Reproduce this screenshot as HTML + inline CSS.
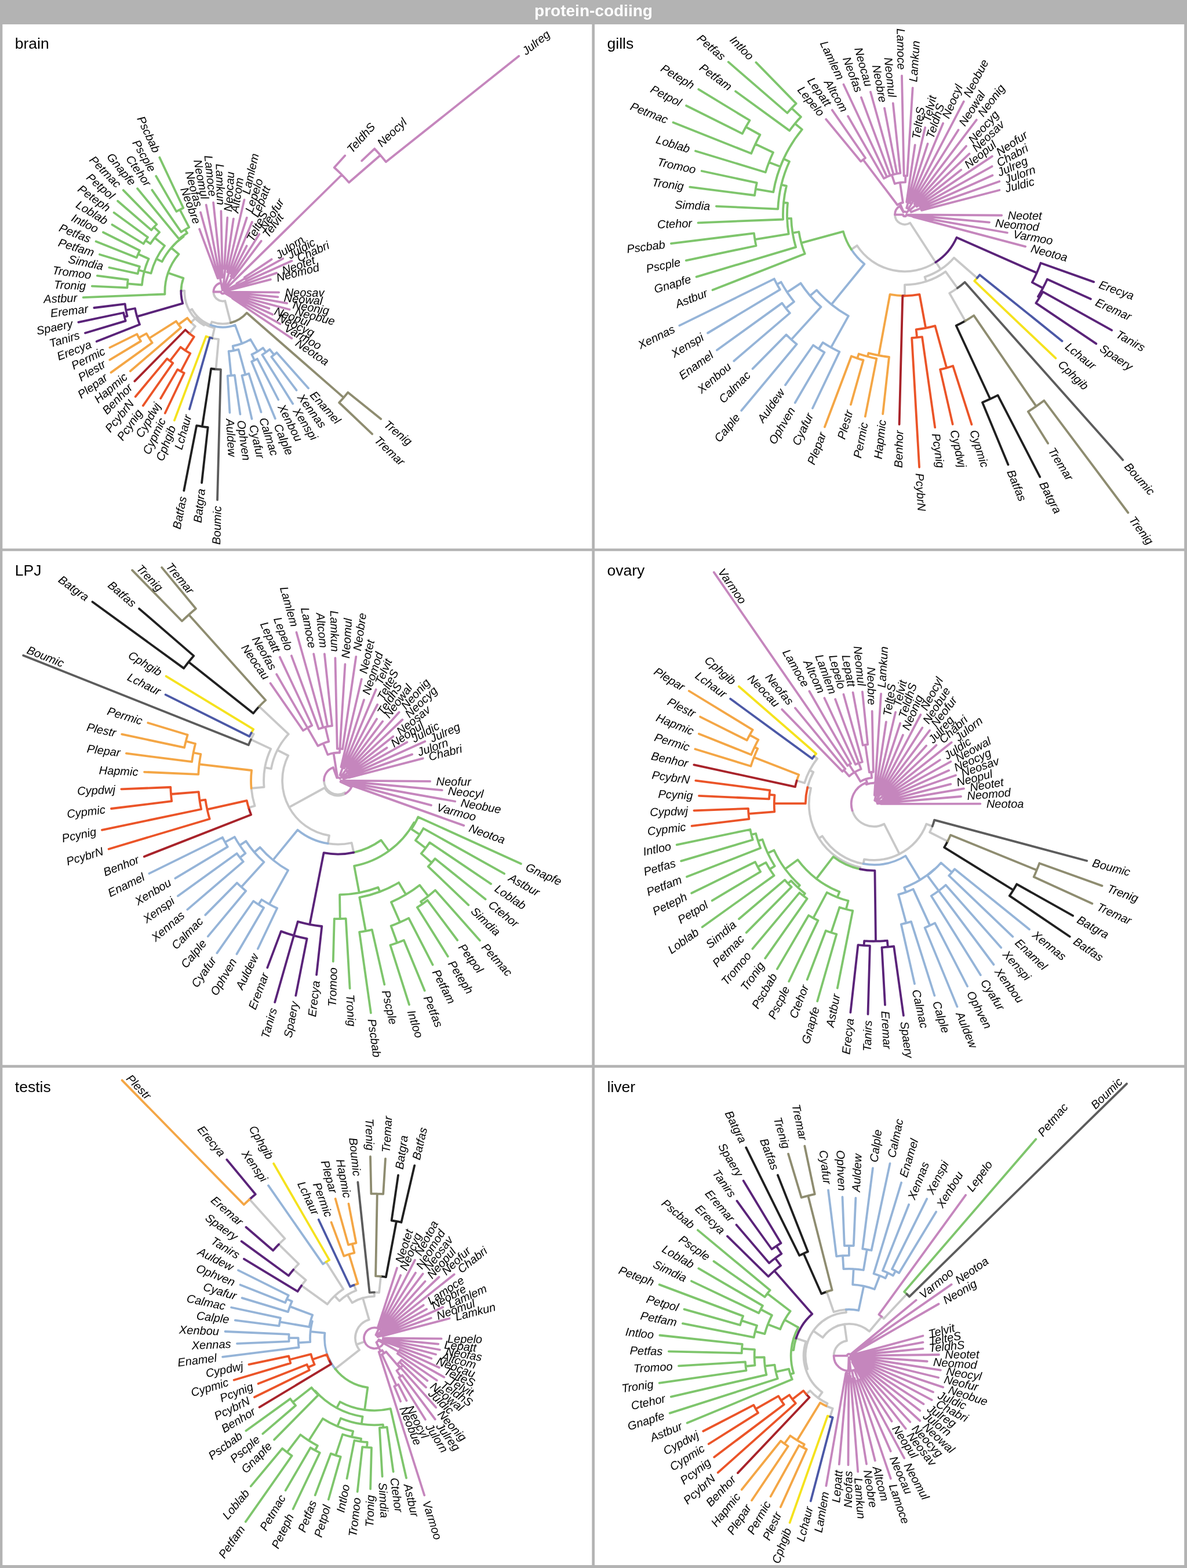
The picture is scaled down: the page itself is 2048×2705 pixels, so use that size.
<!DOCTYPE html>
<html><head><meta charset="utf-8"><style>
html,body{margin:0;padding:0;background:#b3b3b3;}
svg{display:block}
.ttl{font-family:"Liberation Sans",Arial,sans-serif;font-size:26.5px;fill:#000}
.lab text{font-family:"Liberation Sans",Arial,sans-serif;font-style:italic;font-size:20px;fill:#000;dominant-baseline:central}
.hdr{font-family:"Liberation Sans",Arial,sans-serif;font-weight:bold;font-size:28px;fill:#fff}
</style></head><body>
<svg width="2048" height="2705" viewBox="0 0 2048 2705" xmlns="http://www.w3.org/2000/svg">
<rect x="0" y="0" width="2048" height="2705" fill="#b3b3b3"/>
<text class="hdr" x="1024" y="27.8" text-anchor="middle">protein-codiing</text>
<rect x="4.3" y="42.0" width="1017.0" height="904.3" fill="#fff"/>
<text class="ttl" x="25.8" y="84.2">brain</text>
<g fill="none" stroke-width="3.8" stroke-linecap="round" stroke-linejoin="round"><path stroke="#C8C8C8" d="M326.9 536.0 A66.0 66.0 0 0 1 318.4 501.7 M318.4 501.7 L312.4 501.6 M329.6 556.2 A76.0 76.0 0 0 0 336.9 562.9 M336.9 562.9 L327.0 575.4 M352.9 559.2 A64.0 64.0 0 0 1 338.3 547.9 M338.3 547.9 L329.6 556.2 M366.1 583.5 A82.0 82.0 0 0 0 377.1 585.2 M377.1 585.2 L372.5 637.0 M352.9 559.2 A64.0 64.0 0 0 0 370.1 565.9 M370.1 565.9 L366.1 583.5 M326.9 536.0 A66.0 66.0 0 0 0 351.9 561.0 M351.9 561.0 L352.9 559.2 M363.4 560.8 A61.0 61.0 0 0 1 331.3 533.5 M331.3 533.5 L326.9 536.0 M398.0 556.8 A55.0 55.0 0 0 1 365.5 555.2 M365.5 555.2 L363.4 560.8 M368.4 503.5 A16.0 16.0 0 0 0 388.3 519.0 M388.3 519.0 L398.0 556.8"/><path stroke="#95B4D8" d="M398.8 647.8 A145.0 145.0 0 0 1 392.7 648.3 M392.7 648.3 L396.4 711.9 M398.8 647.8 A145.0 145.0 0 0 0 404.8 647.1 M404.8 647.1 L414.4 714.6 M403.1 604.8 A103.0 103.0 0 0 1 394.6 606.0 M394.6 606.0 L398.8 647.8 M423.4 646.3 A148.0 148.0 0 0 1 417.4 647.8 M417.4 647.8 L434.5 722.6 M423.4 646.3 A148.0 148.0 0 0 0 429.3 644.5 M429.3 644.5 L450.5 710.9 M403.1 604.8 A103.0 103.0 0 0 0 411.5 602.9 M411.5 602.9 L423.4 646.3 M417.4 592.6 A95.0 95.0 0 0 1 401.7 596.9 M401.7 596.9 L403.1 604.8 M439.0 621.5 A130.0 130.0 0 0 1 434.1 623.7 M434.1 623.7 L474.8 722.1 M439.0 621.5 A130.0 130.0 0 0 0 443.9 619.1 M443.9 619.1 L480.2 689.5 M444.3 606.3 A119.0 119.0 0 0 1 434.4 611.5 M434.4 611.5 L439.0 621.5 M459.0 607.5 A128.0 128.0 0 0 1 452.3 612.0 M452.3 612.0 L505.2 696.5 M472.9 612.0 A140.0 140.0 0 0 1 468.3 615.6 M468.3 615.6 L511.5 673.2 M472.9 612.0 A140.0 140.0 0 0 0 477.4 608.2 M477.4 608.2 L532.1 669.7 M459.0 607.5 A128.0 128.0 0 0 0 465.3 602.7 M465.3 602.7 L472.9 612.0 M444.3 606.3 A119.0 119.0 0 0 0 453.7 600.2 M453.7 600.2 L459.0 607.5 M417.4 592.6 A95.0 95.0 0 0 0 432.2 585.6 M432.2 585.6 L444.3 606.3 M363.4 560.8 A61.0 61.0 0 0 0 405.6 560.7 M405.6 560.7 L417.4 592.6"/><path stroke="#7EC56C" d="M310.3 361.7 A160.0 160.0 0 0 1 316.3 358.7 M316.3 358.7 L275.3 271.6 M310.3 361.7 A160.0 160.0 0 0 0 304.4 364.9 M304.4 364.9 L269.2 303.8 M319.3 396.0 A125.7 125.7 0 0 1 326.2 392.1 M326.2 392.1 L310.3 361.7 M319.3 396.0 A125.7 125.7 0 0 0 312.7 400.3 M312.7 400.3 L262.4 327.8 M315.8 406.9 A118.5 118.5 0 0 1 323.0 402.1 M323.0 402.1 L319.3 396.0 M315.8 406.9 A118.5 118.5 0 0 0 308.9 412.2 M308.9 412.2 L237.1 325.3 M295.5 427.5 A117.0 117.0 0 0 1 316.6 408.1 M316.6 408.1 L315.8 406.9 M265.6 391.8 A163.0 163.0 0 0 1 270.4 387.0 M270.4 387.0 L212.8 328.1 M265.6 391.8 A163.0 163.0 0 0 0 261.1 396.9 M261.1 396.9 L203.1 346.8 M266.9 410.2 A150.0 150.0 0 0 1 275.1 400.7 M275.1 400.7 L265.6 391.8 M251.2 414.8 A160.0 160.0 0 0 1 255.0 409.3 M255.0 409.3 L196.6 366.8 M251.2 414.8 A160.0 160.0 0 0 0 247.6 420.5 M247.6 420.5 L193.5 387.6 M266.9 410.2 A150.0 150.0 0 0 0 259.5 420.4 M259.5 420.4 L251.2 414.8 M269.8 446.5 A128.0 128.0 0 0 1 284.1 423.9 M284.1 423.9 L266.9 410.2 M238.3 438.2 A160.0 160.0 0 0 1 241.2 432.2 M241.2 432.2 L178.0 400.7 M238.3 438.2 A160.0 160.0 0 0 0 235.7 444.4 M235.7 444.4 L165.6 416.5 M248.8 468.5 A140.0 140.0 0 0 1 256.6 446.4 M256.6 446.4 L238.3 438.2 M239.2 466.0 A150.0 150.0 0 0 1 240.9 459.9 M240.9 459.9 L171.9 439.0 M239.2 466.0 A150.0 150.0 0 0 0 237.7 472.1 M237.7 472.1 L188.4 461.5 M248.8 468.5 L239.2 466.0 M220.0 489.4 A165.0 165.0 0 0 1 220.7 482.5 M220.7 482.5 L167.8 475.7 M220.0 489.4 A165.0 165.0 0 0 0 219.5 496.3 M219.5 496.3 L158.8 493.6 M248.8 468.5 A140.0 140.0 0 0 0 244.9 491.5 M244.9 491.5 L220.0 489.4 M269.8 446.5 A128.0 128.0 0 0 0 260.5 471.5 M260.5 471.5 L248.8 468.5 M295.5 427.5 A117.0 117.0 0 0 0 279.6 451.4 M279.6 451.4 L269.8 446.5 M289.9 470.7 A100.0 100.0 0 0 1 308.4 438.5 M308.4 438.5 L295.5 427.5 M289.9 470.7 A100.0 100.0 0 0 0 284.5 507.5 M284.5 507.5 L143.6 513.1 M312.4 501.6 A72.0 72.0 0 0 1 316.4 479.9 M316.4 479.9 L289.9 470.7"/><path stroke="#5A2379" d="M217.3 535.0 A170.0 170.0 0 0 1 215.7 524.4 M215.7 524.4 L162.4 531.0 M214.8 546.6 A175.0 175.0 0 0 1 213.1 539.5 M213.1 539.5 L135.4 555.8 M214.8 546.6 A175.0 175.0 0 0 0 216.7 553.6 M216.7 553.6 L147.0 574.5 M217.3 535.0 A170.0 170.0 0 0 0 219.6 545.4 M219.6 545.4 L214.8 546.6 M236.4 546.1 A154.0 154.0 0 0 1 233.0 532.0 M233.0 532.0 L217.3 535.0 M236.4 546.1 A154.0 154.0 0 0 0 241.0 559.8 M241.0 559.8 L166.7 589.0 M312.4 501.6 A72.0 72.0 0 0 0 315.2 523.4 M315.2 523.4 L236.4 546.1"/><path stroke="#F4A645" d="M239.5 582.6 A165.0 165.0 0 0 1 236.4 576.4 M236.4 576.4 L189.4 599.6 M239.5 582.6 A165.0 165.0 0 0 0 243.0 588.5 M243.0 588.5 L189.3 620.8 M257.5 583.5 A150.0 150.0 0 0 1 252.7 575.4 M252.7 575.4 L239.5 582.6 M257.5 583.5 A150.0 150.0 0 0 0 262.7 591.3 M262.7 591.3 L191.5 642.6 M307.9 559.9 A95.0 95.0 0 0 1 304.0 554.2 M304.0 554.2 L257.5 583.5 M307.9 559.9 A95.0 95.0 0 0 0 312.2 565.3 M312.2 565.3 L224.8 640.3 M329.6 556.2 A76.0 76.0 0 0 1 323.2 548.6 M323.2 548.6 L307.9 559.9"/><path stroke="#A8232A" d="M327.0 575.4 A92.0 92.0 0 0 1 319.8 569.0 M319.8 569.0 L232.3 657.6"/><path stroke="#EB5428" d="M293.2 622.6 A150.0 150.0 0 0 1 288.3 618.7 M288.3 618.7 L233.7 684.2 M293.2 622.6 A150.0 150.0 0 0 0 298.3 626.4 M298.3 626.4 L246.8 699.8 M319.7 604.6 A120.0 120.0 0 0 1 311.5 598.8 M311.5 598.8 L293.2 622.6 M312.0 640.6 A155.0 155.0 0 0 1 306.3 637.4 M306.3 637.4 L277.2 687.3 M312.0 640.6 A155.0 155.0 0 0 0 317.8 643.5 M317.8 643.5 L284.8 712.7 M319.7 604.6 A120.0 120.0 0 0 0 328.3 609.6 M328.3 609.6 L312.0 640.6 M327.0 575.4 A92.0 92.0 0 0 0 334.8 581.0 M334.8 581.0 L319.7 604.6"/><path stroke="#F5E21D" d="M366.1 583.5 A82.0 82.0 0 0 1 355.5 580.3 M355.5 580.3 L300.9 725.1"/><path stroke="#4B58A6" d="M366.1 583.5 A82.0 82.0 0 0 1 362.0 582.4 M362.0 582.4 L326.9 705.8"/><path stroke="#202020" d="M348.9 735.8 A235.0 235.0 0 0 1 339.2 734.2 M339.2 734.2 L317.3 846.4 M348.9 735.8 A235.0 235.0 0 0 0 358.7 737.1 M358.7 737.1 L348.1 832.8 M372.5 637.0 A134.0 134.0 0 0 1 364.2 636.0 M364.2 636.0 L348.9 735.8"/><path stroke="#5C5C5C" d="M372.5 637.0 A134.0 134.0 0 0 0 380.9 637.5 M380.9 637.5 L375.0 862.4"/><path stroke="#8E8C70" d="M592.9 685.9 A277.0 277.0 0 0 1 585.1 694.5 M585.1 694.5 L642.1 748.7 M592.9 685.9 A277.0 277.0 0 0 0 600.3 677.0 M600.3 677.0 L657.2 722.8 M398.0 556.8 A55.0 55.0 0 0 0 425.8 539.7 M425.8 539.7 L592.9 685.9"/><path stroke="#C586BD" d="M395.9 500.0 A12.0 12.0 0 0 1 396.0 500.5 M396.0 500.5 L466.9 482.1 M395.9 500.0 A12.0 12.0 0 0 0 395.7 499.5 M395.7 499.5 L477.2 470.9 M383.9 500.6 A3.0 3.0 0 0 1 387.2 502.6 M387.2 502.6 L395.9 500.0 M409.2 490.5 A28.0 28.0 0 0 1 409.9 492.1 M409.9 492.1 L503.5 450.1 M422.8 480.1 A45.0 45.0 0 0 1 423.8 481.7 M423.8 481.7 L488.2 446.1 M422.8 480.1 A45.0 45.0 0 0 0 421.8 478.5 M421.8 478.5 L468.6 447.3 M409.2 490.5 A28.0 28.0 0 0 0 408.3 489.0 M408.3 489.0 L422.8 480.1 M383.9 500.6 A3.0 3.0 0 0 1 387.0 502.1 M387.0 502.1 L409.2 490.5 M656.3 267.7 A359.9 359.9 0 0 1 665.9 279.3 M665.9 279.3 L895.2 96.8 M656.3 267.7 A359.9 359.9 0 0 0 646.2 256.6 M646.2 256.6 L624.2 277.4 M589.8 301.5 A288.1 288.1 0 0 1 602.1 314.8 M602.1 314.8 L656.3 267.7 M589.8 301.5 A288.1 288.1 0 0 0 576.7 289.0 M576.7 289.0 L595.2 268.5 M383.9 500.6 A3.0 3.0 0 0 1 386.5 501.4 M386.5 501.4 L589.8 301.5 M400.4 478.2 A30.0 30.0 0 0 1 402.5 479.6 M402.5 479.6 L450.7 415.8 M400.4 478.2 L447.3 404.1 M400.4 478.2 A30.0 30.0 0 0 0 398.2 476.9 M398.2 476.9 L425.6 424.3 M383.9 500.6 A3.0 3.0 0 0 1 386.0 501.0 M386.0 501.0 L400.4 478.2 M395.2 470.2 A35.0 35.0 0 0 1 397.9 471.2 M397.9 471.2 L434.9 382.9 M395.2 470.2 L425.8 375.6 M395.2 470.2 A35.0 35.0 0 0 0 392.3 469.4 M392.3 469.4 L421.5 344.6 M383.9 500.6 A3.0 3.0 0 0 1 385.3 500.7 M385.3 500.7 L395.2 470.2 M388.5 463.7 A40.0 40.0 0 0 1 390.2 463.9 M390.2 463.9 L402.9 377.3 M388.5 463.7 A40.0 40.0 0 0 0 386.9 463.6 M386.9 463.6 L392.3 375.5 M383.9 500.6 A3.0 3.0 0 0 1 384.7 500.5 M384.7 500.5 L388.5 463.7 M379.7 479.0 A25.0 25.0 0 0 1 383.8 478.5 M383.8 478.5 L381.4 364.2 M379.7 479.0 A25.0 25.0 0 0 1 381.8 478.7 M381.8 478.7 L368.1 349.4 M379.7 479.0 L355.7 353.5 M379.7 479.0 A25.0 25.0 0 0 0 377.6 479.4 M377.6 479.4 L346.1 366.4 M379.7 479.0 A25.0 25.0 0 0 0 375.7 480.1 M375.7 480.1 L344.1 395.2 M383.9 500.6 A3.0 3.0 0 0 0 383.8 500.6 M383.8 500.6 L379.7 479.0 M368.4 503.5 A16.0 16.0 0 0 1 381.6 487.8 M381.6 487.8 L383.9 500.6 M401.4 514.0 A20.0 20.0 0 0 1 401.0 514.7 M401.0 514.7 L503.4 583.8 M401.4 514.0 A20.0 20.0 0 0 0 401.8 513.3 M401.8 513.3 L483.5 558.9 M381.4 503.5 A3.0 3.0 0 0 0 386.9 505.1 M386.9 505.1 L401.4 514.0 M398.3 509.1 A15.0 15.0 0 0 1 398.0 509.7 M398.0 509.7 L470.3 542.5 M398.3 509.1 A15.0 15.0 0 0 0 398.5 508.6 M398.5 508.6 L464.4 532.1 M381.4 503.5 A3.0 3.0 0 0 0 387.2 504.6 M387.2 504.6 L398.3 509.1 M402.0 507.4 A18.0 18.0 0 0 1 401.8 508.1 M401.8 508.1 L499.6 534.0 M402.0 507.4 A18.0 18.0 0 0 0 402.1 506.7 M402.1 506.7 L495.2 523.1 M381.4 503.5 A3.0 3.0 0 0 0 387.3 504.2 M387.3 504.2 L402.0 507.4 M394.4 504.0 A10.0 10.0 0 0 1 394.3 504.4 M394.3 504.4 L479.5 512.3 M394.4 504.0 A10.0 10.0 0 0 0 394.4 503.6 M394.4 503.6 L481.2 504.3 M381.4 503.5 A3.0 3.0 0 0 0 387.4 503.7 M387.4 503.7 L394.4 504.0 M368.4 503.5 L381.4 503.5"/></g><g class="lab"><text x="477.1" y="479.4" text-anchor="start" transform="rotate(-14.57 477.1 479.4)">Neomod</text><text x="487.1" y="467.4" text-anchor="start" transform="rotate(-19.36 487.1 467.4)">Neotet</text><text x="513.1" y="445.8" text-anchor="start" transform="rotate(-24.16 513.1 445.8)">Chabri</text><text x="497.4" y="441.0" text-anchor="start" transform="rotate(-28.95 497.4 441.0)">Juldic</text><text x="477.4" y="441.4" text-anchor="start" transform="rotate(-33.74 477.4 441.4)">Julorn</text><text x="903.4" y="90.2" text-anchor="start" transform="rotate(-38.53 903.4 90.2)">Julreg</text><text x="653.9" y="249.4" text-anchor="start" transform="rotate(-43.32 653.9 249.4)">Neocyl</text><text x="602.2" y="260.7" text-anchor="start" transform="rotate(-48.11 602.2 260.7)">TeldhS</text><text x="457.1" y="407.4" text-anchor="start" transform="rotate(-52.90 457.1 407.4)">Telvit</text><text x="452.9" y="395.2" text-anchor="start" transform="rotate(-57.69 452.9 395.2)">Neofur</text><text x="430.5" y="415.0" text-anchor="start" transform="rotate(-62.49 430.5 415.0)">TelteS</text><text x="438.9" y="373.3" text-anchor="start" transform="rotate(-67.28 438.9 373.3)">Lepatt</text><text x="429.0" y="365.6" text-anchor="start" transform="rotate(-72.07 429.0 365.6)">Lepelo</text><text x="423.9" y="334.3" text-anchor="start" transform="rotate(-76.86 423.9 334.3)">Lamlem</text><text x="404.4" y="366.9" text-anchor="start" transform="rotate(-81.65 404.4 366.9)">Altcom</text><text x="393.0" y="365.0" text-anchor="start" transform="rotate(-86.44 393.0 365.0)">Neocau</text><text x="381.1" y="353.7" text-anchor="end" transform="rotate(88.77 381.1 353.7)">Lamkun</text><text x="367.0" y="338.9" text-anchor="end" transform="rotate(83.98 367.0 338.9)">Lamoce</text><text x="353.7" y="343.2" text-anchor="end" transform="rotate(79.18 353.7 343.2)">Neomul</text><text x="343.2" y="356.3" text-anchor="end" transform="rotate(74.39 343.2 356.3)">Neofas</text><text x="340.4" y="385.4" text-anchor="end" transform="rotate(69.60 340.4 385.4)">Neobre</text><text x="270.8" y="262.0" text-anchor="end" transform="rotate(64.81 270.8 262.0)">Pscbab</text><text x="263.9" y="294.7" text-anchor="end" transform="rotate(60.02 263.9 294.7)">Pscple</text><text x="256.4" y="319.2" text-anchor="end" transform="rotate(55.23 256.4 319.2)">Ctehor</text><text x="230.4" y="317.2" text-anchor="end" transform="rotate(50.44 230.4 317.2)">Gnapfe</text><text x="205.5" y="320.6" text-anchor="end" transform="rotate(45.64 205.5 320.6)">Petmac</text><text x="195.2" y="339.9" text-anchor="end" transform="rotate(40.85 195.2 339.9)">Petpol</text><text x="188.1" y="360.6" text-anchor="end" transform="rotate(36.06 188.1 360.6)">Peteph</text><text x="184.5" y="382.2" text-anchor="end" transform="rotate(31.27 184.5 382.2)">Loblab</text><text x="168.6" y="396.0" text-anchor="end" transform="rotate(26.48 168.6 396.0)">Intloo</text><text x="155.9" y="412.7" text-anchor="end" transform="rotate(21.69 155.9 412.7)">Petfas</text><text x="161.9" y="435.9" text-anchor="end" transform="rotate(16.90 161.9 435.9)">Petfam</text><text x="178.1" y="459.3" text-anchor="end" transform="rotate(12.11 178.1 459.3)">Simdia</text><text x="157.4" y="474.4" text-anchor="end" transform="rotate(7.31 157.4 474.4)">Tromoo</text><text x="148.3" y="493.1" text-anchor="end" transform="rotate(2.52 148.3 493.1)">Tronig</text><text x="133.1" y="513.5" text-anchor="end" transform="rotate(-2.27 133.1 513.5)">Astbur</text><text x="151.9" y="532.3" text-anchor="end" transform="rotate(-7.06 151.9 532.3)">Eremar</text><text x="125.1" y="557.9" text-anchor="end" transform="rotate(-11.85 125.1 557.9)">Spaery</text><text x="136.9" y="577.5" text-anchor="end" transform="rotate(-16.64 136.9 577.5)">Tanirs</text><text x="156.9" y="592.8" text-anchor="end" transform="rotate(-21.43 156.9 592.8)">Erecya</text><text x="180.0" y="604.2" text-anchor="end" transform="rotate(-26.22 180.0 604.2)">Permic</text><text x="180.3" y="626.2" text-anchor="end" transform="rotate(-31.02 180.3 626.2)">Plestr</text><text x="183.0" y="648.8" text-anchor="end" transform="rotate(-35.81 183.0 648.8)">Plepar</text><text x="216.8" y="647.1" text-anchor="end" transform="rotate(-40.60 216.8 647.1)">Hapmic</text><text x="225.0" y="665.1" text-anchor="end" transform="rotate(-45.39 225.0 665.1)">Benhor</text><text x="227.0" y="692.3" text-anchor="end" transform="rotate(-50.18 227.0 692.3)">PcybrN</text><text x="240.8" y="708.4" text-anchor="end" transform="rotate(-54.97 240.8 708.4)">Pcynig</text><text x="271.9" y="696.4" text-anchor="end" transform="rotate(-59.76 271.9 696.4)">Cypdwj</text><text x="280.3" y="722.2" text-anchor="end" transform="rotate(-64.55 280.3 722.2)">Cypmic</text><text x="297.2" y="734.9" text-anchor="end" transform="rotate(-69.35 297.2 734.9)">Cphgib</text><text x="324.0" y="715.9" text-anchor="end" transform="rotate(-74.14 324.0 715.9)">Lchaur</text><text x="315.3" y="856.7" text-anchor="end" transform="rotate(-78.93 315.3 856.7)">Batfas</text><text x="347.0" y="843.2" text-anchor="end" transform="rotate(-83.72 347.0 843.2)">Batgra</text><text x="374.8" y="872.9" text-anchor="end" transform="rotate(-88.51 374.8 872.9)">Boumic</text><text x="397.0" y="722.4" text-anchor="start" transform="rotate(-273.30 397.0 722.4)">Auldew</text><text x="415.9" y="725.0" text-anchor="start" transform="rotate(-278.09 415.9 725.0)">Ophven</text><text x="436.8" y="732.9" text-anchor="start" transform="rotate(-282.88 436.8 732.9)">Cyafur</text><text x="453.7" y="720.9" text-anchor="start" transform="rotate(-287.68 453.7 720.9)">Calmac</text><text x="478.8" y="731.8" text-anchor="start" transform="rotate(-292.47 478.8 731.8)">Calple</text><text x="485.0" y="698.8" text-anchor="start" transform="rotate(-297.26 485.0 698.8)">Xenbou</text><text x="510.8" y="705.4" text-anchor="start" transform="rotate(-302.05 510.8 705.4)">Xenspi</text><text x="517.8" y="681.6" text-anchor="start" transform="rotate(-306.84 517.8 681.6)">Xennas</text><text x="539.1" y="677.6" text-anchor="start" transform="rotate(-311.63 539.1 677.6)">Enamel</text><text x="649.7" y="756.0" text-anchor="start" transform="rotate(-316.42 649.7 756.0)">Tremar</text><text x="665.4" y="729.4" text-anchor="start" transform="rotate(-321.22 665.4 729.4)">Trenig</text><text x="512.1" y="589.6" text-anchor="start" transform="rotate(-326.01 512.1 589.6)">Neotoa</text><text x="492.7" y="564.1" text-anchor="start" transform="rotate(-330.80 492.7 564.1)">Varmoo</text><text x="479.8" y="546.9" text-anchor="start" transform="rotate(-335.59 479.8 546.9)">Neocyg</text><text x="474.3" y="535.6" text-anchor="start" transform="rotate(-340.38 474.3 535.6)">Neopul</text><text x="509.8" y="536.7" text-anchor="start" transform="rotate(-345.17 509.8 536.7)">Neobue</text><text x="505.5" y="525.0" text-anchor="start" transform="rotate(-349.96 505.5 525.0)">Neonig</text><text x="490.0" y="513.2" text-anchor="start" transform="rotate(-354.75 490.0 513.2)">Neowal</text><text x="491.7" y="504.4" text-anchor="start" transform="rotate(-359.55 491.7 504.4)">Neosav</text></g>
<rect x="1026.0" y="42.0" width="1017.2" height="904.3" fill="#fff"/>
<text class="ttl" x="1047.5" y="84.2">gills</text>
<g fill="none" stroke-width="3.8" stroke-linecap="round" stroke-linejoin="round"><path stroke="#C8C8C8" d="M1614.3 452.5 A98.0 98.0 0 0 1 1478.8 423.7 M1478.8 423.7 L1468.8 430.3 M1598.0 485.5 A121.0 121.0 0 0 1 1561.0 491.3 M1561.0 491.3 L1561.0 510.3 M1651.9 497.0 A156.0 156.0 0 0 1 1638.2 505.8 M1638.2 505.8 L1665.4 553.6 M1598.0 485.5 A121.0 121.0 0 0 0 1631.5 468.6 M1631.5 468.6 L1651.9 497.0 M1623.1 464.7 A113.0 113.0 0 0 1 1595.6 477.8 M1595.6 477.8 L1598.0 485.5 M1623.1 464.7 A113.0 113.0 0 0 0 1646.0 444.7 M1646.0 444.7 L1685.9 479.5 M1614.3 452.5 A98.0 98.0 0 0 0 1614.8 452.2 M1614.8 452.2 L1623.1 464.7 M1544.0 370.3 A17.0 17.0 0 0 0 1570.2 384.5 M1570.2 384.5 L1614.3 452.5"/><path stroke="#95B4D8" d="M1340.6 490.5 A251.0 251.0 0 0 1 1335.8 481.1 M1335.8 481.1 L1172.3 561.6 M1340.6 490.5 A251.0 251.0 0 0 0 1345.8 499.6 M1345.8 499.6 L1221.1 574.5 M1358.1 504.1 A243.0 243.0 0 0 1 1347.6 486.6 M1347.6 486.6 L1340.6 490.5 M1355.8 531.7 A261.0 261.0 0 0 1 1349.3 522.9 M1349.3 522.9 L1236.9 604.0 M1355.8 531.7 A261.0 261.0 0 0 0 1362.8 540.1 M1362.8 540.1 L1266.3 622.7 M1358.1 504.1 A243.0 243.0 0 0 0 1370.0 520.5 M1370.0 520.5 L1355.8 531.7 M1397.7 510.2 A215.0 215.0 0 0 1 1381.5 488.6 M1381.5 488.6 L1358.1 504.1 M1365.4 585.8 A291.0 291.0 0 0 1 1356.6 577.4 M1356.6 577.4 L1298.6 636.2 M1365.4 585.8 A291.0 291.0 0 0 0 1374.6 593.8 M1374.6 593.8 L1279.2 708.2 M1397.7 510.2 A215.0 215.0 0 0 0 1416.5 529.5 M1416.5 529.5 L1365.4 585.8 M1434.5 525.2 A200.0 200.0 0 0 1 1409.1 500.4 M1409.1 500.4 L1397.7 510.2 M1412.6 601.9 A275.0 275.0 0 0 1 1403.1 595.5 M1403.1 595.5 L1355.0 664.1 M1412.6 601.9 A275.0 275.0 0 0 0 1422.5 607.9 M1422.5 607.9 L1371.8 694.8 M1433.8 599.3 A262.0 262.0 0 0 1 1419.7 590.9 M1419.7 590.9 L1412.6 601.9 M1433.8 599.3 A262.0 262.0 0 0 0 1448.4 606.9 M1448.4 606.9 L1402.0 704.3 M1434.5 525.2 A200.0 200.0 0 0 0 1463.9 545.1 M1463.9 545.1 L1433.8 599.3 M1468.8 430.3 A110.0 110.0 0 0 0 1491.4 455.5 M1491.4 455.5 L1434.5 525.2"/><path stroke="#7EC56C" d="M1365.8 186.6 A268.0 268.0 0 0 1 1373.7 178.6 M1373.7 178.6 L1304.4 107.7 M1365.8 186.6 A268.0 268.0 0 0 0 1358.3 194.9 M1358.3 194.9 L1256.7 106.9 M1371.6 213.2 A246.0 246.0 0 0 1 1381.9 201.6 M1381.9 201.6 L1365.8 186.6 M1371.6 213.2 A246.0 246.0 0 0 0 1362.2 225.4 M1362.2 225.4 L1269.0 157.5 M1352.0 274.1 A230.0 230.0 0 0 1 1383.9 223.4 M1383.9 223.4 L1371.6 213.2 M1286.9 219.0 A313.0 313.0 0 0 1 1293.5 207.7 M1293.5 207.7 L1205.3 154.1 M1286.9 219.0 A313.0 313.0 0 0 0 1280.8 230.6 M1280.8 230.6 L1184.0 182.3 M1303.3 248.5 A285.0 285.0 0 0 1 1311.4 232.5 M1311.4 232.5 L1286.9 219.0 M1303.3 248.5 A285.0 285.0 0 0 0 1296.2 264.8 M1296.2 264.8 L1161.5 211.2 M1326.8 279.9 A251.0 251.0 0 0 1 1334.0 263.0 M1334.0 263.0 L1303.3 248.5 M1326.8 279.9 A251.0 251.0 0 0 0 1320.8 297.2 M1320.8 297.2 L1200.0 260.5 M1352.0 274.1 A230.0 230.0 0 0 0 1346.4 287.4 M1346.4 287.4 L1326.8 279.9 M1303.7 326.2 A261.0 261.0 0 0 1 1305.8 315.4 M1305.8 315.4 L1210.7 295.0 M1303.7 326.2 A261.0 261.0 0 0 0 1302.1 337.0 M1302.1 337.0 L1190.2 322.6 M1352.0 274.1 A230.0 230.0 0 0 0 1334.3 331.4 M1334.3 331.4 L1303.7 326.2 M1348.1 318.7 A219.0 219.0 0 0 1 1362.0 278.7 M1362.0 278.7 L1352.0 274.1 M1348.1 318.7 A219.0 219.0 0 0 0 1342.2 360.6 M1342.2 360.6 L1235.8 355.8 M1352.0 349.5 A210.0 210.0 0 0 1 1356.9 320.8 M1356.9 320.8 L1348.1 318.7 M1352.0 349.5 A210.0 210.0 0 0 0 1351.1 378.5 M1351.1 378.5 L1204.5 384.3 M1358.1 376.9 A203.0 203.0 0 0 1 1359.0 350.2 M1359.0 350.2 L1352.0 349.5 M1302.5 413.2 A262.0 262.0 0 0 1 1300.9 402.4 M1300.9 402.4 L1157.9 420.1 M1302.5 413.2 A262.0 262.0 0 0 0 1304.5 424.0 M1304.5 424.0 L1183.8 449.3 M1358.1 376.9 A203.0 203.0 0 0 0 1360.7 403.6 M1360.7 403.6 L1302.5 413.2 M1367.5 401.8 A196.0 196.0 0 0 1 1365.1 376.7 M1365.1 376.7 L1358.1 376.9 M1367.5 401.8 A196.0 196.0 0 0 0 1373.1 426.4 M1373.1 426.4 L1201.6 477.6 M1382.5 419.2 A185.0 185.0 0 0 1 1378.4 400.0 M1378.4 400.0 L1367.5 401.8 M1382.5 419.2 A185.0 185.0 0 0 0 1388.7 437.8 M1388.7 437.8 L1229.5 500.3 M1468.8 430.3 A110.0 110.0 0 0 1 1454.9 399.4 M1454.9 399.4 L1382.5 419.2"/><path stroke="#5A2379" d="M1793.5 513.2 A273.0 273.0 0 0 1 1787.4 522.8 M1787.4 522.8 L1891.3 592.9 M1793.5 513.2 A273.0 273.0 0 0 0 1799.3 503.4 M1799.3 503.4 L1918.1 569.7 M1799.4 497.0 A270.0 270.0 0 0 1 1791.0 511.7 M1791.0 511.7 L1793.5 513.2 M1799.4 497.0 A270.0 270.0 0 0 0 1806.9 481.8 M1806.9 481.8 L1881.9 515.8 M1788.8 470.7 A249.0 249.0 0 0 1 1780.8 487.1 M1780.8 487.1 L1799.4 497.0 M1788.8 470.7 A249.0 249.0 0 0 0 1795.5 453.8 M1795.5 453.8 L1887.2 486.4 M1614.3 452.5 A98.0 98.0 0 0 0 1650.6 409.8 M1650.6 409.8 L1788.8 470.7"/><path stroke="#F4A645" d="M1479.2 618.1 A261.0 261.0 0 0 1 1468.9 614.5 M1468.9 614.5 L1422.9 736.5 M1479.2 618.1 A261.0 261.0 0 0 0 1489.6 621.3 M1489.6 621.3 L1467.9 697.9 M1496.9 615.0 A253.0 253.0 0 0 1 1481.7 610.5 M1481.7 610.5 L1479.2 618.1 M1496.9 615.0 A253.0 253.0 0 0 0 1512.4 618.6 M1512.4 618.6 L1492.8 718.5 M1516.1 613.2 A247.0 247.0 0 0 1 1498.4 609.2 M1498.4 609.2 L1496.9 615.0 M1516.1 613.2 A247.0 247.0 0 0 0 1534.0 615.8 M1534.0 615.8 L1523.2 714.0 M1561.0 510.3 A140.0 140.0 0 0 1 1535.5 507.9 M1535.5 507.9 L1516.1 613.2"/><path stroke="#A8232A" d="M1561.0 510.3 A140.0 140.0 0 0 1 1557.3 510.2 M1557.3 510.2 L1551.6 732.0"/><path stroke="#EB5428" d="M1582.1 582.2 A213.0 213.0 0 0 1 1573.2 582.9 M1573.2 582.9 L1586.1 806.0 M1582.1 582.2 A213.0 213.0 0 0 0 1591.0 581.2 M1591.0 581.2 L1613.2 737.3 M1597.2 565.9 A199.0 199.0 0 0 1 1580.7 568.3 M1580.7 568.3 L1582.1 582.2 M1633.2 634.6 A274.0 274.0 0 0 1 1622.1 637.4 M1622.1 637.4 L1643.7 731.8 M1633.2 634.6 A274.0 274.0 0 0 0 1644.2 631.3 M1644.2 631.3 L1676.4 732.2 M1597.2 565.9 A199.0 199.0 0 0 0 1613.4 562.2 M1613.4 562.2 L1633.2 634.6 M1561.0 510.3 A140.0 140.0 0 0 0 1586.5 507.9 M1586.5 507.9 L1597.2 565.9"/><path stroke="#F5E21D" d="M1685.9 479.5 A166.0 166.0 0 0 1 1681.2 484.7 M1681.2 484.7 L1821.4 617.9"/><path stroke="#4B58A6" d="M1685.9 479.5 A166.0 166.0 0 0 0 1690.4 474.2 M1690.4 474.2 L1832.6 588.4"/><path stroke="#202020" d="M1708.4 688.3 A350.6 350.6 0 0 1 1695.0 694.2 M1695.0 694.2 L1739.4 801.6 M1708.4 688.3 A350.6 350.6 0 0 0 1721.6 681.9 M1721.6 681.9 L1794.2 822.7 M1665.4 553.6 A211.0 211.0 0 0 1 1649.7 561.7 M1649.7 561.7 L1708.4 688.3"/><path stroke="#5C5C5C" d="M1651.9 497.0 A156.0 156.0 0 0 0 1664.6 486.8 M1664.6 486.8 L1937.3 793.4"/><path stroke="#8E8C70" d="M1787.8 700.9 A400.9 400.9 0 0 1 1773.8 710.1 M1773.8 710.1 L1808.1 764.8 M1787.8 700.9 A400.9 400.9 0 0 0 1801.4 691.1 M1801.4 691.1 L1946.4 884.5 M1665.4 553.6 A211.0 211.0 0 0 0 1680.3 544.3 M1680.3 544.3 L1787.8 700.9"/><path stroke="#C586BD" d="M1588.8 359.2 A30.0 30.0 0 0 1 1590.0 362.8 M1590.0 362.8 L1724.4 328.0 M1588.8 359.2 A30.0 30.0 0 0 1 1589.3 360.4 M1589.3 360.4 L1724.3 313.0 M1588.8 359.2 A30.0 30.0 0 0 0 1588.3 358.0 M1588.3 358.0 L1712.4 302.5 M1588.8 359.2 A30.0 30.0 0 0 0 1587.2 355.8 M1587.2 355.8 L1711.6 287.1 M1569.0 361.4 A12.0 12.0 0 0 1 1572.1 365.8 M1572.1 365.8 L1588.8 359.2 M1579.9 353.9 A25.0 25.0 0 0 1 1581.8 356.4 M1581.8 356.4 L1711.9 269.7 M1579.9 353.9 A25.0 25.0 0 0 1 1580.5 354.7 M1580.5 354.7 L1658.3 292.9 M1579.9 353.9 A25.0 25.0 0 0 0 1579.2 353.1 M1579.2 353.1 L1672.6 265.2 M1579.9 353.9 A25.0 25.0 0 0 0 1577.7 351.7 M1577.7 351.7 L1667.1 252.1 M1569.0 361.4 A12.0 12.0 0 0 1 1570.0 362.4 M1570.0 362.4 L1579.9 353.9 M1575.9 346.6 A28.0 28.0 0 0 1 1577.9 348.0 M1577.9 348.0 L1684.8 206.8 M1575.9 346.6 L1653.5 224.2 M1575.9 346.6 A28.0 28.0 0 0 0 1573.9 345.5 M1573.9 345.5 L1662.8 175.2 M1569.0 361.4 A12.0 12.0 0 0 0 1567.4 360.1 M1567.4 360.1 L1575.9 346.6 M1566.9 349.1 A22.0 22.0 0 0 1 1569.5 350.0 M1569.5 350.0 L1627.1 212.8 M1566.9 349.1 A22.0 22.0 0 0 1 1567.7 349.4 M1567.7 349.4 L1600.6 248.0 M1566.9 349.1 A22.0 22.0 0 0 0 1566.0 348.9 M1566.0 348.9 L1596.2 220.0 M1566.9 349.1 A22.0 22.0 0 0 0 1564.2 348.5 M1564.2 348.5 L1578.7 250.2 M1569.0 361.4 A12.0 12.0 0 0 0 1564.2 358.7 M1564.2 358.7 L1566.9 349.1 M1558.5 365.9 A5.0 5.0 0 0 1 1564.3 366.6 M1564.3 366.6 L1569.0 361.4 M1562.4 303.3 A67.0 67.0 0 0 1 1565.2 303.4 M1565.2 303.4 L1574.7 151.7 M1562.4 303.3 A67.0 67.0 0 0 0 1559.6 303.3 M1559.6 303.3 L1556.0 130.7 M1552.8 314.9 A56.0 56.0 0 0 1 1562.1 314.3 M1562.1 314.3 L1562.4 303.3 M1538.7 301.8 A72.0 72.0 0 0 1 1553.4 298.7 M1553.4 298.7 L1540.8 178.1 M1538.7 301.8 A72.0 72.0 0 0 1 1547.5 299.5 M1547.5 299.5 L1526.0 186.6 M1538.7 301.8 A72.0 72.0 0 0 1 1541.6 300.9 M1541.6 300.9 L1502.0 158.7 M1538.7 301.8 A72.0 72.0 0 0 0 1535.9 302.8 M1535.9 302.8 L1485.9 168.1 M1538.7 301.8 A72.0 72.0 0 0 0 1530.3 305.1 M1530.3 305.1 L1455.5 145.8 M1538.7 301.8 A72.0 72.0 0 0 0 1525.0 307.9 M1525.0 307.9 L1463.1 200.5 M1552.8 314.9 A56.0 56.0 0 0 0 1543.7 317.0 M1543.7 317.0 L1538.7 301.8 M1552.8 350.9 A21.0 21.0 0 0 1 1557.9 349.5 M1557.9 349.5 L1552.8 314.9 M1489.1 275.4 A119.0 119.0 0 0 1 1493.1 272.5 M1493.1 272.5 L1435.8 189.8 M1489.1 275.4 A119.0 119.0 0 0 0 1485.2 278.5 M1485.2 278.5 L1425.2 205.7 M1552.8 350.9 A21.0 21.0 0 0 0 1548.3 353.5 M1548.3 353.5 L1489.1 275.4 M1558.5 365.9 A5.0 5.0 0 0 1 1559.0 365.7 M1559.0 365.7 L1552.8 350.9 M1544.0 370.3 A17.0 17.0 0 0 1 1552.5 355.6 M1552.5 355.6 L1558.5 365.9 M1575.6 373.5 A15.0 15.0 0 0 1 1575.5 374.1 M1575.5 374.1 L1769.2 425.3 M1575.6 373.5 A15.0 15.0 0 0 0 1575.7 372.9 M1575.7 372.9 L1737.9 401.5 M1558.0 370.3 A3.0 3.0 0 0 0 1563.9 370.9 M1563.9 370.9 L1575.6 373.5 M1570.9 370.8 A10.0 10.0 0 0 1 1570.9 371.2 M1570.9 371.2 L1707.0 383.6 M1570.9 370.8 A10.0 10.0 0 0 0 1571.0 370.4 M1571.0 370.4 L1728.2 371.5 M1558.0 370.3 A3.0 3.0 0 0 0 1563.9 370.4 M1563.9 370.4 L1570.9 370.8 M1544.0 370.3 L1558.0 370.3"/></g><g class="lab"><text x="1734.6" y="325.3" text-anchor="start" transform="rotate(-14.51 1734.6 325.3)">Juldic</text><text x="1734.3" y="309.6" text-anchor="start" transform="rotate(-19.30 1734.3 309.6)">Julorn</text><text x="1722.0" y="298.2" text-anchor="start" transform="rotate(-24.10 1722.0 298.2)">Julreg</text><text x="1720.8" y="282.1" text-anchor="start" transform="rotate(-28.89 1720.8 282.1)">Chabri</text><text x="1720.6" y="263.9" text-anchor="start" transform="rotate(-33.68 1720.6 263.9)">Neofur</text><text x="1666.5" y="286.4" text-anchor="start" transform="rotate(-38.47 1666.5 286.4)">Neopul</text><text x="1680.2" y="258.0" text-anchor="start" transform="rotate(-43.27 1680.2 258.0)">Neosav</text><text x="1674.2" y="244.3" text-anchor="start" transform="rotate(-48.06 1674.2 244.3)">Neocyg</text><text x="1691.1" y="198.4" text-anchor="start" transform="rotate(-52.85 1691.1 198.4)">Neonig</text><text x="1659.1" y="215.3" text-anchor="start" transform="rotate(-57.64 1659.1 215.3)">Neowal</text><text x="1667.6" y="165.9" text-anchor="start" transform="rotate(-62.44 1667.6 165.9)">Neobue</text><text x="1631.1" y="203.1" text-anchor="start" transform="rotate(-67.23 1631.1 203.1)">Neocyl</text><text x="1603.9" y="238.0" text-anchor="start" transform="rotate(-72.02 1603.9 238.0)">TeldhS</text><text x="1598.5" y="209.8" text-anchor="start" transform="rotate(-76.81 1598.5 209.8)">Telvit</text><text x="1580.2" y="239.8" text-anchor="start" transform="rotate(-81.61 1580.2 239.8)">TelteS</text><text x="1575.4" y="141.2" text-anchor="start" transform="rotate(-86.40 1575.4 141.2)">Lamkun</text><text x="1555.7" y="120.2" text-anchor="end" transform="rotate(88.81 1555.7 120.2)">Lamoce</text><text x="1539.7" y="167.6" text-anchor="end" transform="rotate(84.02 1539.7 167.6)">Neomul</text><text x="1524.0" y="176.3" text-anchor="end" transform="rotate(79.22 1524.0 176.3)">Neobre</text><text x="1499.2" y="148.6" text-anchor="end" transform="rotate(74.43 1499.2 148.6)">Neocau</text><text x="1482.3" y="158.3" text-anchor="end" transform="rotate(69.64 1482.3 158.3)">Neofas</text><text x="1451.1" y="136.3" text-anchor="end" transform="rotate(64.85 1451.1 136.3)">Lamlem</text><text x="1457.9" y="191.4" text-anchor="end" transform="rotate(60.05 1457.9 191.4)">Altcom</text><text x="1429.8" y="181.2" text-anchor="end" transform="rotate(55.26 1429.8 181.2)">Lepatt</text><text x="1418.5" y="197.6" text-anchor="end" transform="rotate(50.47 1418.5 197.6)">Lepelo</text><text x="1297.1" y="100.1" text-anchor="end" transform="rotate(45.68 1297.1 100.1)">Intloo</text><text x="1248.8" y="100.0" text-anchor="end" transform="rotate(40.88 1248.8 100.0)">Petfas</text><text x="1260.5" y="151.3" text-anchor="end" transform="rotate(36.09 1260.5 151.3)">Petfam</text><text x="1196.3" y="148.6" text-anchor="end" transform="rotate(31.30 1196.3 148.6)">Peteph</text><text x="1174.6" y="177.6" text-anchor="end" transform="rotate(26.50 1174.6 177.6)">Petpol</text><text x="1151.7" y="207.3" text-anchor="end" transform="rotate(21.71 1151.7 207.3)">Petmac</text><text x="1190.0" y="257.4" text-anchor="end" transform="rotate(16.92 1190.0 257.4)">Loblab</text><text x="1200.4" y="292.8" text-anchor="end" transform="rotate(12.13 1200.4 292.8)">Tromoo</text><text x="1179.8" y="321.2" text-anchor="end" transform="rotate(7.33 1179.8 321.2)">Tronig</text><text x="1225.3" y="355.4" text-anchor="end" transform="rotate(2.54 1225.3 355.4)">Simdia</text><text x="1194.0" y="384.7" text-anchor="end" transform="rotate(-2.25 1194.0 384.7)">Ctehor</text><text x="1147.5" y="421.4" text-anchor="end" transform="rotate(-7.04 1147.5 421.4)">Pscbab</text><text x="1173.6" y="451.5" text-anchor="end" transform="rotate(-11.84 1173.6 451.5)">Pscple</text><text x="1191.6" y="480.6" text-anchor="end" transform="rotate(-16.63 1191.6 480.6)">Gnapfe</text><text x="1219.7" y="504.2" text-anchor="end" transform="rotate(-21.42 1219.7 504.2)">Astbur</text><text x="1162.9" y="566.3" text-anchor="end" transform="rotate(-26.21 1162.9 566.3)">Xennas</text><text x="1212.1" y="579.9" text-anchor="end" transform="rotate(-31.01 1212.1 579.9)">Xenspi</text><text x="1228.3" y="610.1" text-anchor="end" transform="rotate(-35.80 1228.3 610.1)">Enamel</text><text x="1258.4" y="629.5" text-anchor="end" transform="rotate(-40.59 1258.4 629.5)">Xenbou</text><text x="1291.2" y="643.7" text-anchor="end" transform="rotate(-45.38 1291.2 643.7)">Calmac</text><text x="1272.5" y="716.2" text-anchor="end" transform="rotate(-50.18 1272.5 716.2)">Calple</text><text x="1349.0" y="672.7" text-anchor="end" transform="rotate(-54.97 1349.0 672.7)">Auldew</text><text x="1366.5" y="703.9" text-anchor="end" transform="rotate(-59.76 1366.5 703.9)">Ophven</text><text x="1397.5" y="713.8" text-anchor="end" transform="rotate(-64.55 1397.5 713.8)">Cyafur</text><text x="1419.2" y="746.3" text-anchor="end" transform="rotate(-69.35 1419.2 746.3)">Plepar</text><text x="1465.0" y="708.0" text-anchor="end" transform="rotate(-74.14 1465.0 708.0)">Plestr</text><text x="1490.8" y="728.8" text-anchor="end" transform="rotate(-78.93 1490.8 728.8)">Permic</text><text x="1522.0" y="724.4" text-anchor="end" transform="rotate(-83.72 1522.0 724.4)">Hapmic</text><text x="1551.3" y="742.5" text-anchor="end" transform="rotate(-88.52 1551.3 742.5)">Benhor</text><text x="1586.7" y="816.4" text-anchor="start" transform="rotate(-273.31 1586.7 816.4)">PcybrN</text><text x="1614.7" y="747.7" text-anchor="start" transform="rotate(-278.10 1614.7 747.7)">Pcynig</text><text x="1646.1" y="742.0" text-anchor="start" transform="rotate(-282.89 1646.1 742.0)">Cypdwj</text><text x="1679.6" y="742.2" text-anchor="start" transform="rotate(-287.69 1679.6 742.2)">Cypmic</text><text x="1743.4" y="811.3" text-anchor="start" transform="rotate(-292.48 1743.4 811.3)">Batfas</text><text x="1799.0" y="832.1" text-anchor="start" transform="rotate(-297.27 1799.0 832.1)">Batgra</text><text x="1813.6" y="773.7" text-anchor="start" transform="rotate(-302.06 1813.6 773.7)">Tremar</text><text x="1952.7" y="892.9" text-anchor="start" transform="rotate(-306.86 1952.7 892.9)">Trenig</text><text x="1944.2" y="801.2" text-anchor="start" transform="rotate(-311.65 1944.2 801.2)">Boumic</text><text x="1829.0" y="625.2" text-anchor="start" transform="rotate(-316.44 1829.0 625.2)">Cphgib</text><text x="1840.8" y="595.0" text-anchor="start" transform="rotate(-321.23 1840.8 595.0)">Lchaur</text><text x="1900.0" y="598.8" text-anchor="start" transform="rotate(-326.03 1900.0 598.8)">Spaery</text><text x="1927.3" y="574.9" text-anchor="start" transform="rotate(-330.82 1927.3 574.9)">Tanirs</text><text x="1891.4" y="520.1" text-anchor="start" transform="rotate(-335.61 1891.4 520.1)">Eremar</text><text x="1897.1" y="489.9" text-anchor="start" transform="rotate(-340.40 1897.1 489.9)">Erecya</text><text x="1779.3" y="428.0" text-anchor="start" transform="rotate(-345.20 1779.3 428.0)">Neotoa</text><text x="1748.2" y="403.3" text-anchor="start" transform="rotate(-349.99 1748.2 403.3)">Varmoo</text><text x="1717.4" y="384.6" text-anchor="start" transform="rotate(-354.78 1717.4 384.6)">Neomod</text><text x="1738.7" y="371.6" text-anchor="start" transform="rotate(-359.58 1738.7 371.6)">Neotet</text></g>
<rect x="4.3" y="950.7" width="1017.0" height="886.5" fill="#fff"/>
<text class="ttl" x="25.8" y="992.9">LPJ</text>
<g fill="none" stroke-width="3.8" stroke-linecap="round" stroke-linejoin="round"><path stroke="#C8C8C8" d="M478.5 1294.0 A117.0 117.0 0 0 1 497.8 1266.4 M497.8 1266.4 L447.2 1218.8 M432.9 1275.7 A166.0 166.0 0 0 1 437.7 1266.4 M437.7 1266.4 L433.7 1264.2 M457.0 1324.1 A128.0 128.0 0 0 1 467.3 1291.9 M467.3 1291.9 L432.9 1275.7 M433.6 1359.9 A150.0 150.0 0 0 0 439.6 1390.2 M439.6 1390.2 L429.0 1393.4 M457.0 1324.1 A128.0 128.0 0 0 0 455.6 1357.9 M455.6 1357.9 L433.6 1359.9 M478.5 1294.0 A117.0 117.0 0 0 0 467.9 1326.1 M467.9 1326.1 L457.0 1324.1 M498.8 1392.6 A96.0 96.0 0 0 1 497.3 1303.5 M497.3 1303.5 L478.5 1294.0 M565.8 1455.2 A110.0 110.0 0 0 0 606.7 1454.0 M606.7 1454.0 L610.3 1470.6 M498.8 1392.6 A96.0 96.0 0 0 0 568.0 1441.4 M568.0 1441.4 L565.8 1455.2 M596.0 1369.1 A26.0 26.0 0 0 1 560.2 1359.0 M560.2 1359.0 L498.8 1392.6 M559.0 1346.5 A24.0 24.0 0 0 0 595.0 1367.3 M595.0 1367.3 L596.0 1369.1"/><path stroke="#95B4D8" d="M388.2 1452.9 A222.0 222.0 0 0 1 383.9 1444.6 M383.9 1444.6 L257.4 1506.9 M388.2 1452.9 A222.0 222.0 0 0 0 392.8 1460.9 M392.8 1460.9 L302.4 1515.2 M413.6 1458.3 A203.0 203.0 0 0 1 404.8 1443.8 M404.8 1443.8 L388.2 1452.9 M414.1 1479.5 A215.0 215.0 0 0 1 408.7 1472.3 M408.7 1472.3 L306.9 1545.7 M414.1 1479.5 A215.0 215.0 0 0 0 419.8 1486.4 M419.8 1486.4 L323.3 1569.1 M413.6 1458.3 A203.0 203.0 0 0 0 423.5 1472.1 M423.5 1472.1 L414.1 1479.5 M438.8 1470.2 A190.0 190.0 0 0 1 424.4 1451.1 M424.4 1451.1 L413.6 1458.3 M416.4 1530.2 A248.0 248.0 0 0 1 408.9 1523.1 M408.9 1523.1 L354.3 1578.4 M416.4 1530.2 A248.0 248.0 0 0 0 424.2 1537.0 M424.2 1537.0 L358.8 1615.4 M438.8 1470.2 A190.0 190.0 0 0 0 455.4 1487.2 M455.4 1487.2 L416.4 1530.2 M471.1 1483.6 A177.0 177.0 0 0 1 448.6 1461.7 M448.6 1461.7 L438.8 1470.2 M446.0 1560.4 A254.0 254.0 0 0 1 437.2 1554.5 M437.2 1554.5 L374.4 1644.1 M446.0 1560.4 A254.0 254.0 0 0 0 455.1 1566.0 M455.1 1566.0 L408.5 1645.8 M464.6 1559.8 A244.0 244.0 0 0 1 451.4 1552.0 M451.4 1552.0 L446.0 1560.4 M464.6 1559.8 A244.0 244.0 0 0 0 478.2 1566.8 M478.2 1566.8 L444.9 1636.7 M471.1 1483.6 A177.0 177.0 0 0 0 497.1 1501.3 M497.1 1501.3 L464.6 1559.8 M565.8 1455.2 A110.0 110.0 0 0 1 513.5 1431.7 M513.5 1431.7 L471.1 1483.6"/><path stroke="#7EC56C" d="M586.7 1585.0 A238.5 238.5 0 0 1 576.8 1585.0 M576.8 1585.0 L574.8 1658.6 M586.7 1585.0 A238.5 238.5 0 0 0 596.7 1584.6 M596.7 1584.6 L603.6 1705.2 M619.8 1540.1 A197.0 197.0 0 0 1 586.1 1543.5 M586.1 1543.5 L586.7 1585.0 M631.0 1606.1 A264.0 264.0 0 0 1 620.1 1607.9 M620.1 1607.9 L639.9 1747.4 M631.0 1606.1 A264.0 264.0 0 0 0 641.8 1603.9 M641.8 1603.9 L663.3 1698.3 M655.3 1538.4 A205.0 205.0 0 0 1 620.3 1548.1 M620.3 1548.1 L631.0 1606.1 M685.2 1626.5 A298.0 298.0 0 0 1 673.4 1630.5 M673.4 1630.5 L706.0 1733.1 M685.2 1626.5 A298.0 298.0 0 0 0 696.8 1622.0 M696.8 1622.0 L732.7 1708.9 M690.1 1591.1 A267.0 267.0 0 0 1 674.6 1597.4 M674.6 1597.4 L685.2 1626.5 M690.1 1591.1 A267.0 267.0 0 0 0 705.2 1583.9 M705.2 1583.9 L746.6 1664.4 M700.4 1543.2 A229.0 229.0 0 0 1 674.9 1556.3 M674.9 1556.3 L690.1 1591.1 M728.9 1559.4 A258.0 258.0 0 0 1 719.8 1565.3 M719.8 1565.3 L772.8 1649.9 M728.9 1559.4 A258.0 258.0 0 0 0 737.6 1553.1 M737.6 1553.1 L789.2 1622.0 M738.8 1545.9 A253.0 253.0 0 0 1 726.0 1555.3 M726.0 1555.3 L728.9 1559.4 M738.8 1545.9 A253.0 253.0 0 0 0 751.0 1535.7 M751.0 1535.7 L828.0 1622.4 M700.4 1543.2 A229.0 229.0 0 0 0 724.1 1527.0 M724.1 1527.0 L738.8 1545.9 M655.3 1538.4 A205.0 205.0 0 0 0 688.1 1522.6 M688.1 1522.6 L700.4 1543.2 M619.8 1540.1 A197.0 197.0 0 0 0 652.5 1530.9 M652.5 1530.9 L655.3 1538.4 M671.0 1468.0 A150.0 150.0 0 0 1 611.1 1493.9 M611.1 1493.9 L619.8 1540.1 M744.8 1488.2 A215.0 215.0 0 0 1 738.7 1494.8 M738.7 1494.8 L808.4 1561.3 M744.8 1488.2 A215.0 215.0 0 0 0 750.6 1481.3 M750.6 1481.3 L837.6 1551.3 M734.3 1463.1 A191.0 191.0 0 0 1 726.7 1472.4 M726.7 1472.4 L744.8 1488.2 M734.3 1463.1 A191.0 191.0 0 0 0 741.3 1453.4 M741.3 1453.4 L847.1 1524.8 M724.1 1439.6 A169.0 169.0 0 0 1 716.9 1449.7 M716.9 1449.7 L734.3 1463.1 M724.1 1439.6 A169.0 169.0 0 0 0 730.5 1429.1 M730.5 1429.1 L870.1 1507.2 M716.1 1420.1 A152.0 152.0 0 0 1 709.9 1430.3 M709.9 1430.3 L724.1 1439.6 M716.1 1420.1 A152.0 152.0 0 0 0 721.4 1409.4 M721.4 1409.4 L898.8 1490.1 M671.0 1468.0 A150.0 150.0 0 0 0 714.3 1419.1 M714.3 1419.1 L716.1 1420.1 M610.3 1470.6 A127.0 127.0 0 0 0 657.5 1449.4 M657.5 1449.4 L671.0 1468.0"/><path stroke="#5A2379" d="M507.0 1613.9 A278.0 278.0 0 0 1 484.9 1606.6 M484.9 1606.6 L461.3 1669.3 M507.0 1613.9 L474.2 1729.0 M507.0 1613.9 A278.0 278.0 0 0 0 529.6 1619.3 M529.6 1619.3 L510.3 1717.5 M534.4 1594.8 A253.0 253.0 0 0 1 513.8 1589.9 M513.8 1589.9 L507.0 1613.9 M534.4 1594.8 A253.0 253.0 0 0 0 555.3 1598.0 M555.3 1598.0 L546.1 1681.6 M610.3 1470.6 A127.0 127.0 0 0 1 558.6 1471.2 M558.6 1471.2 L534.4 1594.8"/><path stroke="#F4A645" d="M320.7 1278.7 A271.0 271.0 0 0 1 323.7 1267.8 M323.7 1267.8 L255.3 1247.0 M320.7 1278.7 A271.0 271.0 0 0 0 318.1 1289.7 M318.1 1289.7 L210.2 1266.6 M333.6 1298.5 A254.0 254.0 0 0 1 337.1 1283.0 M337.1 1283.0 L320.7 1278.7 M333.6 1298.5 A254.0 254.0 0 0 0 331.1 1314.2 M331.1 1314.2 L217.9 1299.7 M343.7 1318.4 A241.0 241.0 0 0 1 346.4 1301.0 M346.4 1301.0 L333.6 1298.5 M343.7 1318.4 A241.0 241.0 0 0 0 342.3 1335.9 M342.3 1335.9 L249.0 1331.8 M433.6 1359.9 A150.0 150.0 0 0 1 434.1 1329.0 M434.1 1329.0 L343.7 1318.4"/><path stroke="#A8232A" d="M429.0 1393.4 A161.0 161.0 0 0 0 433.2 1405.4 M433.2 1405.4 L248.8 1477.7"/><path stroke="#EB5428" d="M295.0 1370.0 A289.0 289.0 0 0 1 294.3 1358.0 M294.3 1358.0 L209.3 1361.3 M295.0 1370.0 A289.0 289.0 0 0 0 296.2 1382.1 M296.2 1382.1 L192.0 1395.0 M344.5 1381.1 A241.0 241.0 0 0 1 342.8 1366.1 M342.8 1366.1 L295.0 1370.0 M344.5 1381.1 A241.0 241.0 0 0 0 347.2 1396.0 M347.2 1396.0 L176.0 1431.9 M357.5 1396.3 A231.0 231.0 0 0 1 354.4 1379.7 M354.4 1379.7 L344.5 1381.1 M357.5 1396.3 A231.0 231.0 0 0 0 361.7 1412.7 M361.7 1412.7 L187.6 1464.7 M429.0 1393.4 A161.0 161.0 0 0 1 425.8 1381.2 M425.8 1381.2 L357.5 1396.3"/><path stroke="#F5E21D" d="M433.7 1264.2 A170.5 170.5 0 0 1 437.3 1258.1 M437.3 1258.1 L286.6 1166.6"/><path stroke="#4B58A6" d="M433.7 1264.2 A170.5 170.5 0 0 0 430.4 1270.5 M430.4 1270.5 L285.6 1198.4"/><path stroke="#202020" d="M325.4 1142.0 A329.0 329.0 0 0 1 334.2 1131.4 M334.2 1131.4 L240.1 1050.1 M325.4 1142.0 A329.0 329.0 0 0 0 317.1 1152.9 M317.1 1152.9 L159.5 1038.2 M447.2 1218.8 A186.5 186.5 0 0 0 437.0 1230.6 M437.0 1230.6 L325.4 1142.0"/><path stroke="#5C5C5C" d="M432.9 1275.7 A166.0 166.0 0 0 0 428.8 1285.2 M428.8 1285.2 L40.2 1130.7"/><path stroke="#8E8C70" d="M325.8 1060.5 A384.7 384.7 0 0 1 337.9 1050.0 M337.9 1050.0 L279.1 978.9 M325.8 1060.5 A384.7 384.7 0 0 0 314.0 1071.5 M314.0 1071.5 L228.1 983.7 M447.2 1218.8 A186.5 186.5 0 0 1 458.3 1207.9 M458.3 1207.9 L325.8 1060.5"/><path stroke="#C586BD" d="M602.2 1340.7 A20.0 20.0 0 0 1 602.4 1341.5 M602.4 1341.5 L729.7 1308.3 M602.2 1340.7 A20.0 20.0 0 0 0 601.9 1339.9 M601.9 1339.9 L711.1 1301.4 M590.3 1339.7 A10.0 10.0 0 0 1 592.6 1343.6 M592.6 1343.6 L602.2 1340.7 M605.4 1335.3 A25.0 25.0 0 0 1 605.9 1336.3 M605.9 1336.3 L733.3 1279.0 M605.4 1335.3 A25.0 25.0 0 0 0 604.9 1334.4 M604.9 1334.4 L702.4 1280.4 M590.3 1339.7 A10.0 10.0 0 0 1 592.0 1342.1 M592.0 1342.1 L605.4 1335.3 M600.2 1332.8 A22.0 22.0 0 0 1 601.3 1334.3 M601.3 1334.3 L667.5 1290.1 M600.2 1332.8 L678.4 1270.5 M600.2 1332.8 A22.0 22.0 0 0 0 599.0 1331.4 M599.0 1331.4 L694.3 1241.5 M590.3 1339.7 A10.0 10.0 0 0 1 590.9 1340.3 M590.9 1340.3 L600.2 1332.8 M599.9 1324.2 A28.0 28.0 0 0 1 601.7 1325.7 M601.7 1325.7 L688.6 1228.7 M599.9 1324.2 L660.2 1244.4 M599.9 1324.2 A28.0 28.0 0 0 0 598.0 1322.9 M598.0 1322.9 L650.1 1240.3 M590.3 1339.7 A10.0 10.0 0 0 0 589.1 1338.6 M589.1 1338.6 L599.9 1324.2 M591.4 1324.0 A24.0 24.0 0 0 1 594.1 1325.2 M594.1 1325.2 L651.2 1215.5 M591.4 1324.0 A24.0 24.0 0 0 1 592.3 1324.4 M592.3 1324.4 L648.7 1189.5 M591.4 1324.0 A24.0 24.0 0 0 0 590.4 1323.7 M590.4 1323.7 L628.0 1207.4 M591.4 1324.0 A24.0 24.0 0 0 0 588.5 1323.2 M588.5 1323.2 L623.8 1171.6 M590.3 1339.7 A10.0 10.0 0 0 0 586.5 1337.2 M586.5 1337.2 L591.4 1324.0 M581.3 1341.8 A5.0 5.0 0 0 1 586.7 1343.1 M586.7 1343.1 L590.3 1339.7 M586.4 1291.6 A55.0 55.0 0 0 1 591.0 1292.1 M591.0 1292.1 L614.3 1132.9 M586.4 1291.6 L595.4 1146.0 M586.4 1291.6 A55.0 55.0 0 0 0 581.8 1291.6 M581.8 1291.6 L578.4 1135.1 M575.5 1299.1 A48.0 48.0 0 0 1 586.0 1298.6 M586.0 1298.6 L586.4 1291.6 M561.3 1254.1 A95.0 95.0 0 0 1 573.0 1252.1 M573.0 1252.1 L559.9 1128.2 M561.3 1254.1 A95.0 95.0 0 0 1 565.2 1253.2 M565.2 1253.2 L541.2 1128.2 M561.3 1254.1 A95.0 95.0 0 0 0 557.5 1255.1 M557.5 1255.1 L511.5 1090.9 M561.3 1254.1 A95.0 95.0 0 0 0 549.9 1257.5 M549.9 1257.5 L502.9 1131.3 M557.6 1282.4 A69.0 69.0 0 0 1 567.3 1279.4 M567.3 1279.4 L561.3 1254.1 M530.6 1255.6 A105.0 105.0 0 0 1 538.3 1251.5 M538.3 1251.5 L482.8 1133.6 M530.6 1255.6 L477.2 1163.2 M530.6 1255.6 A105.0 105.0 0 0 0 523.1 1260.3 M523.1 1260.3 L466.5 1178.7 M557.6 1282.4 A69.0 69.0 0 0 0 548.5 1286.8 M548.5 1286.8 L530.6 1255.6 M575.5 1299.1 A48.0 48.0 0 0 0 565.4 1301.9 M565.4 1301.9 L557.6 1282.4 M581.3 1341.8 A5.0 5.0 0 0 1 582.3 1341.6 M582.3 1341.6 L575.5 1299.1 M559.0 1346.5 A24.0 24.0 0 0 1 574.8 1324.0 M574.8 1324.0 L581.3 1341.8 M597.4 1351.0 A15.0 15.0 0 0 1 597.2 1351.6 M597.2 1351.6 L800.3 1424.1 M597.4 1351.0 A15.0 15.0 0 0 0 597.5 1350.4 M597.5 1350.4 L743.9 1389.2 M587.6 1348.7 A5.0 5.0 0 0 0 587.8 1348.0 M587.8 1348.0 L597.4 1351.0 M593.0 1347.5 A10.0 10.0 0 0 1 592.9 1348.3 M592.9 1348.3 L785.2 1382.5 M593.0 1347.5 L762.7 1363.2 M593.0 1347.5 A10.0 10.0 0 0 0 593.0 1346.6 M593.0 1346.6 L742.1 1347.9 M587.6 1348.7 A5.0 5.0 0 0 0 588.0 1347.0 M588.0 1347.0 L593.0 1347.5 M596.0 1369.1 A26.0 26.0 0 0 0 606.6 1357.5 M606.6 1357.5 L587.6 1348.7"/></g><g class="lab"><text x="739.8" y="1305.7" text-anchor="start" transform="rotate(-14.62 739.8 1305.7)">Chabri</text><text x="721.0" y="1298.0" text-anchor="start" transform="rotate(-19.41 721.0 1298.0)">Julorn</text><text x="742.9" y="1274.7" text-anchor="start" transform="rotate(-24.20 742.9 1274.7)">Julreg</text><text x="711.6" y="1275.3" text-anchor="start" transform="rotate(-28.99 711.6 1275.3)">Juldic</text><text x="676.2" y="1284.2" text-anchor="start" transform="rotate(-33.78 676.2 1284.2)">Neopul</text><text x="686.6" y="1263.9" text-anchor="start" transform="rotate(-38.57 686.6 1263.9)">Neosav</text><text x="701.9" y="1234.3" text-anchor="start" transform="rotate(-43.36 701.9 1234.3)">Neocyg</text><text x="695.6" y="1220.9" text-anchor="start" transform="rotate(-48.15 695.6 1220.9)">Neonig</text><text x="666.5" y="1236.0" text-anchor="start" transform="rotate(-52.94 666.5 1236.0)">Neowal</text><text x="655.7" y="1231.5" text-anchor="start" transform="rotate(-57.73 655.7 1231.5)">TeldhS</text><text x="656.1" y="1206.2" text-anchor="start" transform="rotate(-62.52 656.1 1206.2)">TelteS</text><text x="652.8" y="1179.8" text-anchor="start" transform="rotate(-67.31 652.8 1179.8)">Telvit</text><text x="631.2" y="1197.4" text-anchor="start" transform="rotate(-72.10 631.2 1197.4)">Neomod</text><text x="626.2" y="1161.4" text-anchor="start" transform="rotate(-76.89 626.2 1161.4)">Neotet</text><text x="615.8" y="1122.5" text-anchor="start" transform="rotate(-81.68 615.8 1122.5)">Neobre</text><text x="596.1" y="1135.5" text-anchor="start" transform="rotate(-86.47 596.1 1135.5)">Neomul</text><text x="578.2" y="1124.6" text-anchor="end" transform="rotate(88.74 578.2 1124.6)">Lamkun</text><text x="558.8" y="1117.7" text-anchor="end" transform="rotate(83.95 558.8 1117.7)">Altcom</text><text x="539.3" y="1117.9" text-anchor="end" transform="rotate(79.16 539.3 1117.9)">Lamoce</text><text x="508.7" y="1080.8" text-anchor="end" transform="rotate(74.37 508.7 1080.8)">Lamlem</text><text x="499.3" y="1121.5" text-anchor="end" transform="rotate(69.58 499.3 1121.5)">Lepelo</text><text x="478.4" y="1124.1" text-anchor="end" transform="rotate(64.79 478.4 1124.1)">Lepatt</text><text x="472.0" y="1154.1" text-anchor="end" transform="rotate(60.00 472.0 1154.1)">Neofas</text><text x="460.5" y="1170.1" text-anchor="end" transform="rotate(55.21 460.5 1170.1)">Neocau</text><text x="281.0" y="981.2" dy="-5.5" style="dominant-baseline:alphabetic" text-anchor="start" transform="rotate(50.42 281.0 981.2)">Tremar</text><text x="230.2" y="985.8" dy="-5.5" style="dominant-baseline:alphabetic" text-anchor="start" transform="rotate(45.63 230.2 985.8)">Trenig</text><text x="232.1" y="1043.2" text-anchor="end" transform="rotate(40.84 232.1 1043.2)">Batfas</text><text x="151.0" y="1032.1" text-anchor="end" transform="rotate(36.05 151.0 1032.1)">Batgra</text><text x="277.6" y="1161.1" text-anchor="end" transform="rotate(31.26 277.6 1161.1)">Cphgib</text><text x="276.2" y="1193.7" text-anchor="end" transform="rotate(26.47 276.2 1193.7)">Lchaur</text><text x="43.0" y="1131.8" dy="-5.5" style="dominant-baseline:alphabetic" text-anchor="start" transform="rotate(21.68 43.0 1131.8)">Boumic</text><text x="245.3" y="1244.0" text-anchor="end" transform="rotate(16.89 245.3 1244.0)">Permic</text><text x="199.9" y="1264.4" text-anchor="end" transform="rotate(12.10 199.9 1264.4)">Plestr</text><text x="207.5" y="1298.4" text-anchor="end" transform="rotate(7.31 207.5 1298.4)">Plepar</text><text x="238.5" y="1331.4" text-anchor="end" transform="rotate(2.52 238.5 1331.4)">Hapmic</text><text x="198.8" y="1361.8" text-anchor="end" transform="rotate(-2.27 198.8 1361.8)">Cypdwj</text><text x="181.6" y="1396.2" text-anchor="end" transform="rotate(-7.06 181.6 1396.2)">Cypmic</text><text x="165.7" y="1434.1" text-anchor="end" transform="rotate(-11.85 165.7 1434.1)">Pcynig</text><text x="177.6" y="1467.7" text-anchor="end" transform="rotate(-16.64 177.6 1467.7)">PcybrN</text><text x="239.0" y="1481.6" text-anchor="end" transform="rotate(-21.43 239.0 1481.6)">Benhor</text><text x="248.0" y="1511.5" text-anchor="end" transform="rotate(-26.22 248.0 1511.5)">Enamel</text><text x="293.4" y="1520.6" text-anchor="end" transform="rotate(-31.01 293.4 1520.6)">Xenbou</text><text x="298.4" y="1551.8" text-anchor="end" transform="rotate(-35.80 298.4 1551.8)">Xenspi</text><text x="315.4" y="1575.9" text-anchor="end" transform="rotate(-40.59 315.4 1575.9)">Xennas</text><text x="346.9" y="1585.8" text-anchor="end" transform="rotate(-45.38 346.9 1585.8)">Calmac</text><text x="352.1" y="1623.5" text-anchor="end" transform="rotate(-50.17 352.1 1623.5)">Calple</text><text x="368.4" y="1652.7" text-anchor="end" transform="rotate(-54.96 368.4 1652.7)">Cyafur</text><text x="403.2" y="1654.9" text-anchor="end" transform="rotate(-59.75 403.2 1654.9)">Ophven</text><text x="440.4" y="1646.2" text-anchor="end" transform="rotate(-64.54 440.4 1646.2)">Auldew</text><text x="457.6" y="1679.1" text-anchor="end" transform="rotate(-69.33 457.6 1679.1)">Eremar</text><text x="471.4" y="1739.1" text-anchor="end" transform="rotate(-74.12 471.4 1739.1)">Tanirs</text><text x="508.3" y="1727.8" text-anchor="end" transform="rotate(-78.91 508.3 1727.8)">Spaery</text><text x="544.9" y="1692.0" text-anchor="end" transform="rotate(-83.70 544.9 1692.0)">Erecya</text><text x="574.5" y="1669.1" text-anchor="end" transform="rotate(-88.49 574.5 1669.1)">Tromoo</text><text x="604.2" y="1715.7" text-anchor="start" transform="rotate(-273.28 604.2 1715.7)">Tronig</text><text x="641.4" y="1757.8" text-anchor="start" transform="rotate(-278.07 641.4 1757.8)">Pscbab</text><text x="665.7" y="1708.5" text-anchor="start" transform="rotate(-282.86 665.7 1708.5)">Pscple</text><text x="709.2" y="1743.1" text-anchor="start" transform="rotate(-287.65 709.2 1743.1)">Intloo</text><text x="736.7" y="1718.6" text-anchor="start" transform="rotate(-292.44 736.7 1718.6)">Petfas</text><text x="751.4" y="1673.7" text-anchor="start" transform="rotate(-297.23 751.4 1673.7)">Petfam</text><text x="778.3" y="1658.8" text-anchor="start" transform="rotate(-302.02 778.3 1658.8)">Peteph</text><text x="795.5" y="1630.4" text-anchor="start" transform="rotate(-306.81 795.5 1630.4)">Petpol</text><text x="835.0" y="1630.3" text-anchor="start" transform="rotate(-311.60 835.0 1630.3)">Petmac</text><text x="816.0" y="1568.5" text-anchor="start" transform="rotate(-316.39 816.0 1568.5)">Simdia</text><text x="845.7" y="1557.9" text-anchor="start" transform="rotate(-321.18 845.7 1557.9)">Ctehor</text><text x="855.8" y="1530.7" text-anchor="start" transform="rotate(-325.97 855.8 1530.7)">Loblab</text><text x="879.3" y="1512.3" text-anchor="start" transform="rotate(-330.76 879.3 1512.3)">Astbur</text><text x="908.4" y="1494.5" text-anchor="start" transform="rotate(-335.55 908.4 1494.5)">Gnapfe</text><text x="810.1" y="1427.7" text-anchor="start" transform="rotate(-340.34 810.1 1427.7)">Neotoa</text><text x="754.0" y="1391.9" text-anchor="start" transform="rotate(-345.13 754.0 1391.9)">Varmoo</text><text x="795.5" y="1384.3" text-anchor="start" transform="rotate(-349.92 795.5 1384.3)">Neobue</text><text x="773.1" y="1364.1" text-anchor="start" transform="rotate(-354.71 773.1 1364.1)">Neocyl</text><text x="752.6" y="1348.0" text-anchor="start" transform="rotate(-359.50 752.6 1348.0)">Neofur</text></g>
<rect x="1026.0" y="950.7" width="1017.2" height="886.5" fill="#fff"/>
<text class="ttl" x="1047.5" y="992.9">ovary</text>
<g fill="none" stroke-width="3.8" stroke-linecap="round" stroke-linejoin="round"><path stroke="#C8C8C8" d="M1397.1 1328.7 A125.0 125.0 0 0 1 1410.1 1308.8 M1410.1 1308.8 L1404.6 1304.4 M1397.1 1328.7 A125.0 125.0 0 0 0 1388.1 1350.8 M1388.1 1350.8 L1374.7 1346.8 M1393.3 1358.3 A118.0 118.0 0 0 1 1403.3 1332.0 M1403.3 1332.0 L1397.1 1328.7 M1412.8 1446.2 A112.0 112.0 0 0 1 1399.1 1359.7 M1399.1 1359.7 L1393.3 1358.3 M1412.8 1446.2 A112.0 112.0 0 0 0 1484.5 1496.3 M1484.5 1496.3 L1483.9 1499.3 M1489.6 1490.2 A105.0 105.0 0 0 1 1418.8 1442.4 M1418.8 1442.4 L1412.8 1446.2 M1551.8 1473.2 A97.0 97.0 0 0 1 1491.0 1482.3 M1491.0 1482.3 L1489.6 1490.2 M1608.7 1425.4 A108.0 108.0 0 0 1 1604.1 1435.7 M1604.1 1435.7 L1635.0 1451.4 M1551.8 1473.2 A97.0 97.0 0 0 0 1598.4 1421.5 M1598.4 1421.5 L1608.7 1425.4 M1470.5 1398.2 A39.0 39.0 0 0 0 1525.5 1421.5 M1525.5 1421.5 L1551.8 1473.2"/><path stroke="#95B4D8" d="M1563.5 1592.4 A213.0 213.0 0 0 1 1554.8 1594.5 M1554.8 1594.5 L1578.0 1697.1 M1563.5 1592.4 A213.0 213.0 0 0 0 1572.0 1589.9 M1572.0 1589.9 L1612.4 1717.5 M1563.1 1539.1 A162.0 162.0 0 0 1 1550.1 1543.1 M1550.1 1543.1 L1563.5 1592.4 M1604.4 1596.6 A231.0 231.0 0 0 1 1595.6 1600.4 M1595.6 1600.4 L1651.5 1736.6 M1604.4 1596.6 A231.0 231.0 0 0 0 1613.1 1592.4 M1613.1 1592.4 L1669.1 1701.5 M1563.1 1539.1 A162.0 162.0 0 0 0 1575.6 1533.9 M1575.6 1533.9 L1604.4 1596.6 M1587.6 1517.9 A153.5 153.5 0 0 1 1560.2 1531.1 M1560.2 1531.1 L1563.1 1539.1 M1619.6 1536.7 A187.0 187.0 0 0 1 1606.7 1545.5 M1606.7 1545.5 L1691.8 1682.1 M1619.6 1536.7 L1714.5 1664.0 M1619.6 1536.7 A187.0 187.0 0 0 0 1631.7 1526.8 M1631.7 1526.8 L1727.2 1634.8 M1612.2 1500.0 A154.0 154.0 0 0 1 1599.9 1510.2 M1599.9 1510.2 L1619.6 1536.7 M1642.3 1504.9 A179.0 179.0 0 0 1 1637.2 1510.5 M1637.2 1510.5 L1747.4 1615.8 M1642.3 1504.9 A179.0 179.0 0 0 0 1647.1 1499.2 M1647.1 1499.2 L1776.0 1603.3 M1612.2 1500.0 A154.0 154.0 0 0 0 1623.5 1488.4 M1623.5 1488.4 L1642.3 1504.9 M1587.6 1517.9 A153.5 153.5 0 0 0 1611.9 1499.6 M1611.9 1499.6 L1612.2 1500.0 M1489.6 1490.2 A105.0 105.0 0 0 0 1562.4 1476.5 M1562.4 1476.5 L1587.6 1517.9"/><path stroke="#7EC56C" d="M1296.4 1439.9 A218.0 218.0 0 0 1 1294.4 1431.0 M1294.4 1431.0 L1167.7 1457.3 M1296.4 1439.9 A218.0 218.0 0 0 0 1298.8 1448.7 M1298.8 1448.7 L1175.2 1485.4 M1307.8 1450.6 A210.0 210.0 0 0 1 1304.1 1438.0 M1304.1 1438.0 L1296.4 1439.9 M1307.8 1450.6 A210.0 210.0 0 0 0 1312.2 1463.1 M1312.2 1463.1 L1185.0 1512.6 M1324.6 1471.8 A202.0 202.0 0 0 1 1315.4 1448.2 M1315.4 1448.2 L1307.8 1450.6 M1307.4 1495.5 A228.0 228.0 0 0 1 1303.0 1487.0 M1303.0 1487.0 L1193.2 1540.8 M1307.4 1495.5 A228.0 228.0 0 0 0 1312.1 1503.8 M1312.1 1503.8 L1228.7 1553.7 M1328.2 1499.4 A212.0 212.0 0 0 1 1321.5 1487.9 M1321.5 1487.9 L1307.4 1495.5 M1328.2 1499.4 A212.0 212.0 0 0 0 1335.6 1510.4 M1335.6 1510.4 L1211.7 1599.3 M1324.6 1471.8 A202.0 202.0 0 0 0 1336.7 1494.1 M1336.7 1494.1 L1328.2 1499.4 M1354.6 1499.2 A190.0 190.0 0 0 1 1335.5 1466.7 M1335.5 1466.7 L1324.6 1471.8 M1359.7 1524.2 A202.0 202.0 0 0 1 1354.1 1517.9 M1354.1 1517.9 L1275.0 1585.3 M1359.7 1524.2 A202.0 202.0 0 0 0 1365.6 1530.2 M1365.6 1530.2 L1287.7 1608.8 M1376.5 1530.9 A195.0 195.0 0 0 1 1364.9 1519.4 M1364.9 1519.4 L1359.7 1524.2 M1385.9 1545.3 A200.0 200.0 0 0 1 1379.4 1540.1 M1379.4 1540.1 L1298.4 1636.8 M1385.9 1545.3 A200.0 200.0 0 0 0 1392.6 1550.3 M1392.6 1550.3 L1320.2 1653.1 M1376.5 1530.9 A195.0 195.0 0 0 0 1388.9 1541.4 M1388.9 1541.4 L1385.9 1545.3 M1354.6 1499.2 A190.0 190.0 0 0 0 1379.8 1527.2 M1379.8 1527.2 L1376.5 1530.9 M1408.5 1516.0 A163.0 163.0 0 0 1 1376.4 1483.2 M1376.4 1483.2 L1354.6 1499.2 M1403.2 1583.7 A223.0 223.0 0 0 1 1395.1 1579.2 M1395.1 1579.2 L1340.9 1671.6 M1403.2 1583.7 A223.0 223.0 0 0 0 1411.5 1587.9 M1411.5 1587.9 L1361.2 1693.0 M1444.7 1547.9 A173.0 173.0 0 0 1 1426.7 1539.6 M1426.7 1539.6 L1403.2 1583.7 M1434.0 1608.8 A234.0 234.0 0 0 1 1424.8 1605.5 M1424.8 1605.5 L1392.7 1689.9 M1434.0 1608.8 A234.0 234.0 0 0 0 1443.3 1611.7 M1443.3 1611.7 L1410.2 1727.2 M1459.8 1568.5 A188.0 188.0 0 0 1 1448.5 1565.2 M1448.5 1565.2 L1434.0 1608.8 M1459.8 1568.5 A188.0 188.0 0 0 0 1471.3 1571.2 M1471.3 1571.2 L1444.8 1704.6 M1444.7 1547.9 A173.0 173.0 0 0 0 1463.6 1554.0 M1463.6 1554.0 L1459.8 1568.5 M1408.5 1516.0 A163.0 163.0 0 0 0 1448.4 1538.5 M1448.4 1538.5 L1444.7 1547.9 M1483.9 1499.3 A115.0 115.0 0 0 1 1437.7 1477.9 M1437.7 1477.9 L1408.5 1516.0"/><path stroke="#5A2379" d="M1490.6 1631.2 A245.0 245.0 0 0 1 1480.4 1630.2 M1480.4 1630.2 L1467.4 1746.5 M1490.6 1631.2 A245.0 245.0 0 0 0 1500.9 1631.7 M1500.9 1631.7 L1497.5 1749.7 M1511.0 1623.7 A237.0 237.0 0 0 1 1491.2 1623.2 M1491.2 1623.2 L1490.6 1631.2 M1531.9 1633.6 A248.0 248.0 0 0 1 1521.5 1634.4 M1521.5 1634.4 L1527.0 1733.6 M1531.9 1633.6 A248.0 248.0 0 0 0 1542.2 1632.4 M1542.2 1632.4 L1558.9 1751.9 M1511.0 1623.7 A237.0 237.0 0 0 0 1530.8 1622.7 M1530.8 1622.7 L1531.9 1633.6 M1483.9 1499.3 A115.0 115.0 0 0 0 1509.4 1501.8 M1509.4 1501.8 L1511.0 1623.7"/><path stroke="#F4A645" d="M1293.5 1268.0 A245.0 245.0 0 0 1 1298.7 1259.1 M1298.7 1259.1 L1188.8 1192.0 M1293.5 1268.0 A245.0 245.0 0 0 0 1288.8 1277.0 M1288.8 1277.0 L1208.1 1236.6 M1301.9 1288.9 A228.0 228.0 0 0 1 1308.4 1276.2 M1308.4 1276.2 L1293.5 1268.0 M1301.9 1288.9 A228.0 228.0 0 0 0 1296.1 1302.0 M1296.1 1302.0 L1205.9 1265.9 M1300.9 1306.4 A222.0 222.0 0 0 1 1307.3 1291.5 M1307.3 1291.5 L1301.9 1288.9 M1300.9 1306.4 A222.0 222.0 0 0 0 1295.5 1321.7 M1295.5 1321.7 L1199.4 1292.3 M1374.7 1346.8 A139.0 139.0 0 0 1 1378.2 1336.5 M1378.2 1336.5 L1300.9 1306.4"/><path stroke="#A8232A" d="M1374.7 1346.8 A139.0 139.0 0 0 0 1372.0 1357.3 M1372.0 1357.3 L1197.3 1319.4"/><path stroke="#EB5428" d="M1327.5 1370.8 A181.0 181.0 0 0 1 1328.3 1363.3 M1328.3 1363.3 L1200.3 1346.6 M1327.5 1370.8 A181.0 181.0 0 0 0 1327.0 1378.4 M1327.0 1378.4 L1206.0 1372.8 M1335.8 1386.0 A172.0 172.0 0 0 1 1336.5 1371.6 M1336.5 1371.6 L1327.5 1370.8 M1291.5 1403.9 A217.0 217.0 0 0 1 1291.0 1394.9 M1291.0 1394.9 L1197.4 1398.3 M1291.5 1403.9 A217.0 217.0 0 0 0 1292.4 1412.9 M1292.4 1412.9 L1193.6 1424.9 M1335.8 1386.0 A172.0 172.0 0 0 0 1336.3 1400.4 M1336.3 1400.4 L1291.5 1403.9 M1393.3 1358.3 A118.0 118.0 0 0 0 1389.8 1386.2 M1389.8 1386.2 L1335.8 1386.0"/><path stroke="#F5E21D" d="M1404.6 1304.4 A132.0 132.0 0 0 1 1408.2 1300.2 M1408.2 1300.2 L1274.8 1184.3"/><path stroke="#4B58A6" d="M1404.6 1304.4 A132.0 132.0 0 0 0 1401.3 1308.8 M1401.3 1308.8 L1260.1 1205.5"/><path stroke="#202020" d="M1748.3 1535.5 A282.7 282.7 0 0 1 1741.8 1545.4 M1741.8 1545.4 L1845.8 1615.8 M1748.3 1535.5 A282.7 282.7 0 0 0 1754.3 1525.3 M1754.3 1525.3 L1851.1 1579.7 M1635.0 1451.4 A142.7 142.7 0 0 1 1629.2 1461.8 M1629.2 1461.8 L1748.3 1535.5"/><path stroke="#5C5C5C" d="M1608.7 1425.4 A108.0 108.0 0 0 0 1612.1 1414.7 M1612.1 1414.7 L1875.2 1485.0"/><path stroke="#8E8C70" d="M1788.7 1501.1 A303.3 303.3 0 0 1 1783.7 1512.8 M1783.7 1512.8 L1884.4 1558.8 M1788.7 1501.1 A303.3 303.3 0 0 0 1793.3 1489.3 M1793.3 1489.3 L1901.5 1528.1 M1635.0 1451.4 A142.7 142.7 0 0 0 1640.0 1440.6 M1640.0 1440.6 L1788.7 1501.1"/><path stroke="#C586BD" d="M1519.8 1385.8 A12.0 12.0 0 0 1 1519.8 1386.8 M1519.8 1386.8 L1691.4 1386.6 M1519.8 1385.8 L1658.0 1374.0 M1519.8 1385.8 A12.0 12.0 0 0 0 1519.6 1384.8 M1519.6 1384.8 L1663.0 1360.4 M1512.4 1382.8 A6.0 6.0 0 0 1 1513.8 1386.3 M1513.8 1386.3 L1519.8 1385.8 M1524.5 1380.1 A18.0 18.0 0 0 1 1525.2 1382.3 M1525.2 1382.3 L1640.3 1352.7 M1524.5 1380.1 A18.0 18.0 0 0 1 1524.8 1380.8 M1524.8 1380.8 L1648.9 1337.5 M1524.5 1380.1 A18.0 18.0 0 0 0 1524.3 1379.4 M1524.3 1379.4 L1637.2 1329.1 M1524.5 1380.1 A18.0 18.0 0 0 0 1523.6 1378.1 M1523.6 1378.1 L1640.4 1313.8 M1512.4 1382.8 A6.0 6.0 0 0 1 1513.4 1384.6 M1513.4 1384.6 L1524.5 1380.1 M1524.5 1372.4 A22.0 22.0 0 0 1 1526.1 1374.6 M1526.1 1374.6 L1621.8 1311.0 M1524.5 1372.4 A22.0 22.0 0 0 1 1525.1 1373.1 M1525.1 1373.1 L1641.7 1280.7 M1524.5 1372.4 A22.0 22.0 0 0 0 1523.8 1371.7 M1523.8 1371.7 L1615.5 1285.6 M1524.5 1372.4 A22.0 22.0 0 0 0 1522.5 1370.4 M1522.5 1370.4 L1598.1 1286.5 M1512.4 1382.8 L1524.5 1372.4 M1518.5 1369.9 A20.0 20.0 0 0 1 1519.9 1370.8 M1519.9 1370.8 L1604.2 1259.9 M1518.5 1369.9 L1591.3 1255.4 M1518.5 1369.9 A20.0 20.0 0 0 0 1517.1 1369.1 M1517.1 1369.1 L1588.4 1233.0 M1512.4 1382.8 A6.0 6.0 0 0 0 1511.0 1381.7 M1511.0 1381.7 L1518.5 1369.9 M1511.3 1372.2 A15.0 15.0 0 0 1 1513.6 1372.9 M1513.6 1372.9 L1557.9 1268.0 M1511.3 1372.2 A15.0 15.0 0 0 1 1512.5 1372.5 M1512.5 1372.5 L1553.2 1247.7 M1511.3 1372.2 L1545.1 1228.6 M1511.3 1372.2 A15.0 15.0 0 0 0 1510.0 1371.9 M1510.0 1371.9 L1528.9 1245.4 M1511.3 1372.2 A15.0 15.0 0 0 0 1508.8 1371.8 M1508.8 1371.8 L1520.1 1196.8 M1512.4 1382.8 A6.0 6.0 0 0 0 1509.2 1380.9 M1509.2 1380.9 L1511.3 1372.2 M1494.9 1353.2 A36.0 36.0 0 0 1 1535.1 1363.2 M1535.1 1363.2 L1512.4 1382.8 M1503.3 1332.0 A55.0 55.0 0 0 1 1506.8 1331.8 M1506.8 1331.8 L1504.7 1226.8 M1493.0 1284.8 A103.0 103.0 0 0 1 1497.2 1284.3 M1497.2 1284.3 L1487.9 1193.5 M1493.0 1284.8 A103.0 103.0 0 0 0 1488.7 1285.6 M1488.7 1285.6 L1471.6 1194.7 M1503.3 1332.0 A55.0 55.0 0 0 0 1499.9 1332.3 M1499.9 1332.3 L1493.0 1284.8 M1494.0 1343.9 A45.0 45.0 0 0 1 1504.1 1341.9 M1504.1 1341.9 L1503.3 1332.0 M1481.8 1316.4 A75.0 75.0 0 0 1 1487.8 1314.5 M1487.8 1314.5 L1455.5 1197.9 M1481.8 1316.4 L1441.1 1206.2 M1481.8 1316.4 A75.0 75.0 0 0 0 1476.0 1318.8 M1476.0 1318.8 L1422.4 1204.2 M1474.8 1331.9 A64.0 64.0 0 0 1 1485.6 1326.7 M1485.6 1326.7 L1481.8 1316.4 M1465.1 1319.1 A80.0 80.0 0 0 1 1468.0 1317.4 M1468.0 1317.4 L1396.4 1192.5 M1465.1 1319.1 A80.0 80.0 0 0 0 1462.3 1320.9 M1462.3 1320.9 L1231.7 987.2 M1474.8 1331.9 A64.0 64.0 0 0 0 1473.7 1332.6 M1473.7 1332.6 L1465.1 1319.1 M1455.8 1328.6 A78.0 78.0 0 0 1 1458.3 1326.5 M1458.3 1326.5 L1371.9 1221.4 M1455.8 1328.6 A78.0 78.0 0 0 0 1453.4 1330.9 M1453.4 1330.9 L1349.2 1223.8 M1474.8 1331.9 A64.0 64.0 0 0 0 1465.1 1339.1 M1465.1 1339.1 L1455.8 1328.6 M1494.0 1343.9 A45.0 45.0 0 0 0 1484.6 1348.2 M1484.6 1348.2 L1474.8 1331.9 M1494.9 1353.2 A36.0 36.0 0 0 1 1496.8 1352.5 M1496.8 1352.5 L1494.0 1343.9 M1470.5 1398.2 A39.0 39.0 0 0 1 1493.8 1350.4 M1493.8 1350.4 L1494.9 1353.2"/></g><g class="lab"><text x="1701.9" y="1386.5" text-anchor="start" transform="rotate(-0.07 1701.9 1386.5)">Neotoa</text><text x="1668.5" y="1373.1" text-anchor="start" transform="rotate(-4.86 1668.5 1373.1)">Neomod</text><text x="1673.3" y="1358.6" text-anchor="start" transform="rotate(-9.65 1673.3 1358.6)">Neotet</text><text x="1650.5" y="1350.0" text-anchor="start" transform="rotate(-14.44 1650.5 1350.0)">Neopul</text><text x="1658.8" y="1334.1" text-anchor="start" transform="rotate(-19.23 1658.8 1334.1)">Neosav</text><text x="1646.8" y="1324.8" text-anchor="start" transform="rotate(-24.02 1646.8 1324.8)">Neocyg</text><text x="1649.6" y="1308.8" text-anchor="start" transform="rotate(-28.81 1649.6 1308.8)">Neowal</text><text x="1630.6" y="1305.2" text-anchor="start" transform="rotate(-33.61 1630.6 1305.2)">Juldic</text><text x="1649.9" y="1274.2" text-anchor="start" transform="rotate(-38.40 1649.9 1274.2)">Julorn</text><text x="1623.2" y="1278.5" text-anchor="start" transform="rotate(-43.19 1623.2 1278.5)">Chabri</text><text x="1605.2" y="1278.7" text-anchor="start" transform="rotate(-47.98 1605.2 1278.7)">Julreg</text><text x="1610.5" y="1251.6" text-anchor="start" transform="rotate(-52.77 1610.5 1251.6)">Neofur</text><text x="1596.9" y="1246.6" text-anchor="start" transform="rotate(-57.56 1596.9 1246.6)">Neobue</text><text x="1593.2" y="1223.7" text-anchor="start" transform="rotate(-62.35 1593.2 1223.7)">Neocyl</text><text x="1562.0" y="1258.3" text-anchor="start" transform="rotate(-67.14 1562.0 1258.3)">Neonig</text><text x="1556.4" y="1237.7" text-anchor="start" transform="rotate(-71.94 1556.4 1237.7)">TeldhS</text><text x="1547.5" y="1218.4" text-anchor="start" transform="rotate(-76.73 1547.5 1218.4)">Telvit</text><text x="1530.4" y="1235.0" text-anchor="start" transform="rotate(-81.52 1530.4 1235.0)">TelteS</text><text x="1520.7" y="1186.3" text-anchor="start" transform="rotate(-86.31 1520.7 1186.3)">Lamkun</text><text x="1504.5" y="1216.3" text-anchor="end" transform="rotate(88.90 1504.5 1216.3)">Neobre</text><text x="1486.8" y="1183.1" text-anchor="end" transform="rotate(84.11 1486.8 1183.1)">Neomul</text><text x="1469.6" y="1184.3" text-anchor="end" transform="rotate(79.32 1469.6 1184.3)">Lepatt</text><text x="1452.7" y="1187.8" text-anchor="end" transform="rotate(74.53 1452.7 1187.8)">Lepelo</text><text x="1437.5" y="1196.4" text-anchor="end" transform="rotate(69.73 1437.5 1196.4)">Lamlem</text><text x="1418.0" y="1194.7" text-anchor="end" transform="rotate(64.94 1418.0 1194.7)">Altcom</text><text x="1391.1" y="1183.4" text-anchor="end" transform="rotate(60.15 1391.1 1183.4)">Lamoce</text><text x="1233.4" y="989.6" dy="-5.5" style="dominant-baseline:alphabetic" text-anchor="start" transform="rotate(55.36 1233.4 989.6)">Varmoo</text><text x="1365.2" y="1213.3" text-anchor="end" transform="rotate(50.57 1365.2 1213.3)">Neofas</text><text x="1341.9" y="1216.3" text-anchor="end" transform="rotate(45.78 1341.9 1216.3)">Neocau</text><text x="1266.8" y="1177.4" text-anchor="end" transform="rotate(40.99 1266.8 1177.4)">Cphgib</text><text x="1251.6" y="1199.3" text-anchor="end" transform="rotate(36.20 1251.6 1199.3)">Lchaur</text><text x="1179.8" y="1186.5" text-anchor="end" transform="rotate(31.40 1179.8 1186.5)">Plepar</text><text x="1198.8" y="1231.9" text-anchor="end" transform="rotate(26.61 1198.8 1231.9)">Plestr</text><text x="1196.1" y="1262.0" text-anchor="end" transform="rotate(21.82 1196.1 1262.0)">Hapmic</text><text x="1189.4" y="1289.2" text-anchor="end" transform="rotate(17.03 1189.4 1289.2)">Permic</text><text x="1187.1" y="1317.2" text-anchor="end" transform="rotate(12.24 1187.1 1317.2)">Benhor</text><text x="1189.9" y="1345.2" text-anchor="end" transform="rotate(7.45 1189.9 1345.2)">PcybrN</text><text x="1195.5" y="1372.3" text-anchor="end" transform="rotate(2.66 1195.5 1372.3)">Pcynig</text><text x="1186.9" y="1398.7" text-anchor="end" transform="rotate(-2.13 1186.9 1398.7)">Cypdwj</text><text x="1183.2" y="1426.2" text-anchor="end" transform="rotate(-6.93 1183.2 1426.2)">Cypmic</text><text x="1157.5" y="1459.4" text-anchor="end" transform="rotate(-11.72 1157.5 1459.4)">Intloo</text><text x="1165.1" y="1488.3" text-anchor="end" transform="rotate(-16.51 1165.1 1488.3)">Petfas</text><text x="1175.2" y="1516.4" text-anchor="end" transform="rotate(-21.30 1175.2 1516.4)">Petfam</text><text x="1183.8" y="1545.4" text-anchor="end" transform="rotate(-26.09 1183.8 1545.4)">Peteph</text><text x="1219.6" y="1559.1" text-anchor="end" transform="rotate(-30.88 1219.6 1559.1)">Petpol</text><text x="1203.2" y="1605.5" text-anchor="end" transform="rotate(-35.67 1203.2 1605.5)">Loblab</text><text x="1267.1" y="1592.1" text-anchor="end" transform="rotate(-40.46 1267.1 1592.1)">Simdia</text><text x="1280.3" y="1616.3" text-anchor="end" transform="rotate(-45.26 1280.3 1616.3)">Petmac</text><text x="1291.7" y="1644.8" text-anchor="end" transform="rotate(-50.05 1291.7 1644.8)">Tromoo</text><text x="1314.1" y="1661.7" text-anchor="end" transform="rotate(-54.84 1314.1 1661.7)">Tronig</text><text x="1335.6" y="1680.7" text-anchor="end" transform="rotate(-59.63 1335.6 1680.7)">Pscbab</text><text x="1356.7" y="1702.4" text-anchor="end" transform="rotate(-64.42 1356.7 1702.4)">Pscple</text><text x="1389.0" y="1699.7" text-anchor="end" transform="rotate(-69.21 1389.0 1699.7)">Ctehor</text><text x="1407.3" y="1737.3" text-anchor="end" transform="rotate(-74.00 1407.3 1737.3)">Gnapfe</text><text x="1442.8" y="1714.9" text-anchor="end" transform="rotate(-78.80 1442.8 1714.9)">Astbur</text><text x="1466.2" y="1756.9" text-anchor="end" transform="rotate(-83.59 1466.2 1756.9)">Erecya</text><text x="1497.2" y="1760.2" text-anchor="end" transform="rotate(-88.38 1497.2 1760.2)">Tanirs</text><text x="1527.6" y="1744.1" text-anchor="start" transform="rotate(-273.17 1527.6 1744.1)">Eremar</text><text x="1560.3" y="1762.3" text-anchor="start" transform="rotate(-277.96 1560.3 1762.3)">Spaery</text><text x="1580.4" y="1707.3" text-anchor="start" transform="rotate(-282.75 1580.4 1707.3)">Calmac</text><text x="1615.5" y="1727.5" text-anchor="start" transform="rotate(-287.54 1615.5 1727.5)">Calple</text><text x="1655.5" y="1746.3" text-anchor="start" transform="rotate(-292.33 1655.5 1746.3)">Auldew</text><text x="1673.8" y="1710.9" text-anchor="start" transform="rotate(-297.13 1673.8 1710.9)">Ophven</text><text x="1697.3" y="1691.0" text-anchor="start" transform="rotate(-301.92 1697.3 1691.0)">Cyafur</text><text x="1720.8" y="1672.4" text-anchor="start" transform="rotate(-306.71 1720.8 1672.4)">Xenbou</text><text x="1734.2" y="1642.6" text-anchor="start" transform="rotate(-311.50 1734.2 1642.6)">Xenspi</text><text x="1754.9" y="1623.0" text-anchor="start" transform="rotate(-316.29 1754.9 1623.0)">Enamel</text><text x="1784.2" y="1609.9" text-anchor="start" transform="rotate(-321.08 1784.2 1609.9)">Xennas</text><text x="1854.5" y="1621.7" text-anchor="start" transform="rotate(-325.87 1854.5 1621.7)">Batfas</text><text x="1860.3" y="1584.9" text-anchor="start" transform="rotate(-330.66 1860.3 1584.9)">Batgra</text><text x="1894.0" y="1563.1" text-anchor="start" transform="rotate(-335.46 1894.0 1563.1)">Tremar</text><text x="1911.4" y="1531.7" text-anchor="start" transform="rotate(-340.25 1911.4 1531.7)">Trenig</text><text x="1885.4" y="1487.7" text-anchor="start" transform="rotate(-345.04 1885.4 1487.7)">Boumic</text></g>
<rect x="4.3" y="1841.9" width="1017.0" height="858.1" fill="#fff"/>
<text class="ttl" x="25.8" y="1884.1">testis</text>
<g fill="none" stroke-width="3.8" stroke-linecap="round" stroke-linejoin="round"><path stroke="#C8C8C8" d="M645.9 2229.3 A79.0 79.0 0 0 1 654.1 2229.8 M654.1 2229.8 L657.0 2201.9 M626.0 2239.2 A72.0 72.0 0 0 1 645.9 2236.3 M645.9 2236.3 L645.9 2229.3 M599.1 2233.9 A88.0 88.0 0 0 1 614.4 2226.2 M614.4 2226.2 L610.8 2216.9 M577.4 2235.6 A100.0 100.0 0 0 1 592.4 2223.9 M592.4 2223.9 L562.6 2177.0 M481.0 2146.7 A231.0 231.0 0 0 1 491.5 2136.7 M491.5 2136.7 L430.6 2069.0 M506.3 2190.2 A183.0 183.0 0 0 1 515.3 2180.3 M515.3 2180.3 L481.0 2146.7 M520.2 2217.8 A155.0 155.0 0 0 1 527.7 2208.2 M527.7 2208.2 L506.3 2190.2 M577.4 2235.6 A100.0 100.0 0 0 0 564.8 2249.9 M564.8 2249.9 L520.2 2217.8 M599.1 2233.9 A88.0 88.0 0 0 0 585.6 2244.3 M585.6 2244.3 L577.4 2235.6 M626.0 2239.2 A72.0 72.0 0 0 0 607.7 2247.4 M607.7 2247.4 L599.1 2233.9 M615.0 2319.6 A33.0 33.0 0 0 1 636.8 2276.6 M636.8 2276.6 L626.0 2239.2 M578.4 2361.5 A86.0 86.0 0 0 1 568.1 2344.7 M568.1 2344.7 L567.2 2345.1 M615.0 2319.6 A33.0 33.0 0 0 0 620.1 2328.8 M620.1 2328.8 L578.4 2361.5 M629.1 2314.5 L615.0 2319.6"/><path stroke="#95B4D8" d="M562.6 2177.0 A155.6 155.6 0 0 0 557.2 2180.6 M557.2 2180.6 L463.0 2045.2 M494.9 2240.9 A165.5 165.5 0 0 1 497.8 2234.6 M497.8 2234.6 L411.0 2191.4 M494.9 2240.9 A165.5 165.5 0 0 0 492.2 2247.2 M492.2 2247.2 L414.5 2216.4 M500.1 2253.9 A155.7 155.7 0 0 1 503.8 2244.9 M503.8 2244.9 L494.9 2240.9 M500.1 2253.9 A155.7 155.7 0 0 0 497.0 2263.1 M497.0 2263.1 L417.6 2239.1 M535.9 2278.7 A114.0 114.0 0 0 1 539.2 2268.5 M539.2 2268.5 L500.1 2253.9 M482.7 2280.4 A165.7 165.7 0 0 1 484.0 2273.6 M484.0 2273.6 L399.1 2255.5 M482.7 2280.4 A165.7 165.7 0 0 0 481.6 2287.3 M481.6 2287.3 L405.8 2277.6 M535.9 2278.7 A114.0 114.0 0 0 0 533.6 2289.1 M533.6 2289.1 L482.7 2280.4 M535.6 2297.1 A111.0 111.0 0 0 1 538.8 2279.5 M538.8 2279.5 L535.9 2278.7 M498.5 2308.0 A147.5 147.5 0 0 1 498.6 2301.9 M498.6 2301.9 L388.5 2297.0 M498.5 2308.0 A147.5 147.5 0 0 0 498.6 2314.2 M498.6 2314.2 L409.0 2317.8 M514.8 2316.3 A131.4 131.4 0 0 1 514.6 2308.1 M514.6 2308.1 L498.5 2308.0 M514.8 2316.3 A131.4 131.4 0 0 0 515.6 2324.5 M515.6 2324.5 L384.1 2340.8 M535.6 2297.1 A111.0 111.0 0 0 0 535.2 2315.1 M535.2 2315.1 L514.8 2316.3 M578.4 2361.5 A86.0 86.0 0 0 1 560.4 2299.6 M560.4 2299.6 L535.6 2297.1"/><path stroke="#7EC56C" d="M505.3 2419.0 A179.0 179.0 0 0 1 500.8 2413.1 M500.8 2413.1 L424.4 2468.2 M505.3 2419.0 A179.0 179.0 0 0 0 510.1 2424.8 M510.1 2424.8 L453.4 2473.4 M543.1 2400.3 A138.0 138.0 0 0 1 537.5 2393.7 M537.5 2393.7 L505.3 2419.0 M543.1 2400.3 A138.0 138.0 0 0 0 549.1 2406.6 M549.1 2406.6 L473.1 2483.6 M580.9 2428.9 A137.0 137.0 0 0 1 543.9 2399.6 M543.9 2399.6 L543.1 2400.3 M495.2 2505.3 A248.0 248.0 0 0 1 487.1 2498.8 M487.1 2498.8 L432.8 2563.9 M495.2 2505.3 A248.0 248.0 0 0 0 503.6 2511.4 M503.6 2511.4 L423.8 2625.2 M532.7 2485.2 A210.0 210.0 0 0 1 518.3 2475.1 M518.3 2475.1 L495.2 2505.3 M543.7 2502.0 A219.0 219.0 0 0 1 535.7 2497.5 M535.7 2497.5 L492.7 2571.1 M543.7 2502.0 A219.0 219.0 0 0 0 551.8 2506.1 M551.8 2506.1 L505.6 2603.2 M532.7 2485.2 A210.0 210.0 0 0 0 547.9 2494.0 M547.9 2494.0 L543.7 2502.0 M582.1 2460.5 A165.0 165.0 0 0 1 557.0 2447.3 M557.0 2447.3 L532.7 2485.2 M579.2 2510.6 A213.0 213.0 0 0 1 570.8 2507.6 M570.8 2507.6 L543.7 2579.3 M579.2 2510.6 A213.0 213.0 0 0 0 587.7 2513.2 M587.7 2513.2 L566.8 2586.7 M607.0 2478.9 A175.0 175.0 0 0 1 591.1 2474.5 M591.1 2474.5 L579.2 2510.6 M622.5 2486.8 A180.0 180.0 0 0 1 611.4 2485.0 M611.4 2485.0 L598.5 2550.6 M633.1 2496.9 A189.0 189.0 0 0 1 625.2 2496.2 M625.2 2496.2 L616.7 2573.4 M633.1 2496.9 A189.0 189.0 0 0 0 641.0 2497.3 M641.0 2497.3 L639.1 2568.7 M622.5 2486.8 A180.0 180.0 0 0 0 633.7 2487.9 M633.7 2487.9 L633.1 2496.9 M607.0 2478.9 A175.0 175.0 0 0 0 623.1 2481.8 M623.1 2481.8 L622.5 2486.8 M582.1 2460.5 A165.0 165.0 0 0 0 609.2 2469.2 M609.2 2469.2 L607.0 2478.9 M623.7 2456.7 A150.0 150.0 0 0 1 587.9 2446.7 M587.9 2446.7 L582.1 2460.5 M661.3 2462.6 A155.0 155.0 0 0 1 654.8 2463.1 M654.8 2463.1 L659.6 2547.2 M661.3 2462.6 A155.0 155.0 0 0 0 667.7 2461.8 M667.7 2461.8 L678.6 2538.8 M623.7 2456.7 A150.0 150.0 0 0 0 660.8 2457.6 M660.8 2457.6 L661.3 2462.6 M580.9 2428.9 A137.0 137.0 0 0 0 625.6 2443.8 M625.6 2443.8 L623.7 2456.7 M629.1 2432.2 A125.0 125.0 0 0 1 586.6 2418.3 M586.6 2418.3 L580.9 2428.9 M629.1 2432.2 A125.0 125.0 0 0 0 673.8 2430.2 M673.8 2430.2 L701.0 2549.7 M578.4 2361.5 A86.0 86.0 0 0 0 634.4 2393.6 M634.4 2393.6 L629.1 2432.2"/><path stroke="#5A2379" d="M430.6 2069.0 A322.0 322.0 0 0 1 440.8 2060.2 M440.8 2060.2 L391.3 2000.5 M481.0 2146.7 A231.0 231.0 0 0 0 471.2 2157.3 M471.2 2157.3 L424.5 2117.0 M506.3 2190.2 A183.0 183.0 0 0 0 498.0 2200.7 M498.0 2200.7 L416.6 2141.4 M520.2 2217.8 A155.0 155.0 0 0 0 513.5 2227.9 M513.5 2227.9 L421.0 2171.8"/><path stroke="#F4A645" d="M607.7 2145.8 A167.0 167.0 0 0 1 614.5 2144.3 M614.5 2144.3 L601.5 2076.6 M607.7 2145.8 A167.0 167.0 0 0 0 601.0 2147.5 M601.0 2147.5 L578.7 2068.0 M602.2 2163.8 A151.0 151.0 0 0 1 611.4 2161.4 M611.4 2161.4 L607.7 2145.8 M602.2 2163.8 A151.0 151.0 0 0 0 593.3 2166.9 M593.3 2166.9 L571.6 2108.6 M610.8 2216.9 A98.0 98.0 0 0 1 617.6 2214.6 M617.6 2214.6 L602.2 2163.8 M430.6 2069.0 A322.0 322.0 0 0 0 420.8 2078.2 M420.8 2078.2 L210.6 1863.6"/><path stroke="#A8232A" d="M567.2 2345.1 A87.0 87.0 0 0 0 571.4 2353.2 M571.4 2353.2 L447.6 2427.6"/><path stroke="#EB5428" d="M499.7 2345.5 A151.0 151.0 0 0 1 498.2 2339.4 M498.2 2339.4 L429.5 2353.8 M499.7 2345.5 A151.0 151.0 0 0 0 501.3 2351.6 M501.3 2351.6 L403.7 2380.8 M539.2 2345.2 A113.0 113.0 0 0 1 536.5 2336.2 M536.5 2336.2 L499.7 2345.5 M531.7 2358.8 A125.0 125.0 0 0 1 529.6 2354.0 M529.6 2354.0 L445.6 2387.0 M531.7 2358.8 A125.0 125.0 0 0 0 533.9 2363.6 M533.9 2363.6 L439.0 2410.3 M539.2 2345.2 A113.0 113.0 0 0 0 542.6 2354.0 M542.6 2354.0 L531.7 2358.8 M567.2 2345.1 A87.0 87.0 0 0 1 563.8 2336.7 M563.8 2336.7 L539.2 2345.2"/><path stroke="#F5E21D" d="M562.6 2177.0 A155.6 155.6 0 0 1 568.2 2173.6 M568.2 2173.6 L472.1 2007.3"/><path stroke="#4B58A6" d="M610.8 2216.9 A98.0 98.0 0 0 0 604.2 2219.7 M604.2 2219.7 L549.7 2104.0"/><path stroke="#202020" d="M684.0 2106.9 A205.0 205.0 0 0 1 692.4 2108.7 M692.4 2108.7 L715.2 2010.6 M684.0 2106.9 A205.0 205.0 0 0 0 675.6 2105.5 M675.6 2105.5 L687.0 2027.5 M657.0 2201.9 A107.0 107.0 0 0 1 665.9 2203.2 M665.9 2203.2 L684.0 2106.9"/><path stroke="#5C5C5C" d="M645.9 2229.3 A79.0 79.0 0 0 0 637.6 2229.8 M637.6 2229.8 L617.4 2039.5"/><path stroke="#8E8C70" d="M650.8 2059.4 A249.0 249.0 0 0 1 661.2 2059.8 M661.2 2059.8 L665.0 1998.8 M650.8 2059.4 A249.0 249.0 0 0 0 640.4 2059.4 M640.4 2059.4 L639.0 1995.2 M657.0 2201.9 A107.0 107.0 0 0 0 648.1 2201.4 M648.1 2201.4 L650.8 2059.4"/><path stroke="#C586BD" d="M659.2 2303.7 A14.0 14.0 0 0 1 659.5 2304.8 M659.5 2304.8 L775.5 2274.5 M659.2 2303.7 L743.8 2273.8 M659.2 2303.7 A14.0 14.0 0 0 0 658.8 2302.6 M658.8 2302.6 L764.2 2255.1 M650.6 2304.5 A6.0 6.0 0 0 1 651.7 2306.4 M651.7 2306.4 L659.2 2303.7 M663.1 2297.9 A20.0 20.0 0 0 1 663.5 2298.6 M663.5 2298.6 L736.1 2258.4 M663.1 2297.9 A20.0 20.0 0 0 0 662.6 2297.2 M662.6 2297.2 L730.7 2251.6 M650.6 2304.5 A6.0 6.0 0 0 1 651.1 2305.2 M651.1 2305.2 L663.1 2297.9 M661.3 2292.6 A22.0 22.0 0 0 1 663.2 2294.6 M663.2 2294.6 L783.7 2198.4 M661.3 2292.6 A22.0 22.0 0 0 1 662.0 2293.2 M662.0 2293.2 L757.5 2203.0 M661.3 2292.6 A22.0 22.0 0 0 0 660.7 2292.0 M660.7 2292.0 L733.5 2210.5 M661.3 2292.6 A22.0 22.0 0 0 0 659.3 2290.8 M659.3 2290.8 L729.7 2197.4 M650.6 2304.5 A6.0 6.0 0 0 0 650.2 2304.0 M650.2 2304.0 L661.3 2292.6 M653.6 2292.0 A18.0 18.0 0 0 1 655.6 2293.1 M655.6 2293.1 L717.0 2195.8 M653.6 2292.0 A18.0 18.0 0 0 1 654.3 2292.4 M654.3 2292.4 L716.0 2173.7 M653.6 2292.0 A18.0 18.0 0 0 0 652.9 2291.7 M652.9 2291.7 L691.2 2200.0 M653.6 2292.0 A18.0 18.0 0 0 0 651.5 2291.2 M651.5 2291.2 L685.0 2187.5 M650.6 2304.5 A6.0 6.0 0 0 0 648.5 2302.9 M648.5 2302.9 L653.6 2292.0 M629.1 2314.5 A18.0 18.0 0 0 1 659.8 2296.8 M659.8 2296.8 L650.6 2304.5 M656.6 2331.0 A25.0 25.0 0 0 1 653.6 2332.2 M653.6 2332.2 L732.2 2579.5 M683.8 2390.0 A90.0 90.0 0 0 1 680.3 2391.5 M680.3 2391.5 L691.1 2417.6 M683.8 2390.0 A90.0 90.0 0 0 0 687.2 2388.4 M687.2 2388.4 L701.5 2416.3 M662.7 2334.5 A31.0 31.0 0 0 1 659.0 2336.5 M659.0 2336.5 L683.8 2390.0 M691.2 2374.4 A80.0 80.0 0 0 1 688.4 2376.2 M688.4 2376.2 L733.8 2448.8 M691.2 2374.4 A80.0 80.0 0 0 0 693.9 2372.4 M693.9 2372.4 L750.8 2448.5 M690.1 2360.1 A68.0 68.0 0 0 1 684.4 2364.5 M684.4 2364.5 L691.2 2374.4 M689.4 2349.7 A60.0 60.0 0 0 1 685.8 2353.2 M685.8 2353.2 L752.2 2428.1 M689.4 2349.7 L735.1 2393.3 M689.4 2349.7 A60.0 60.0 0 0 0 692.7 2346.0 M692.7 2346.0 L737.4 2381.9 M690.1 2360.1 A68.0 68.0 0 0 0 695.2 2355.3 M695.2 2355.3 L689.4 2349.7 M662.7 2334.5 A31.0 31.0 0 0 0 666.1 2332.0 M666.1 2332.0 L690.1 2360.1 M656.6 2331.0 A25.0 25.0 0 0 0 659.5 2329.4 M659.5 2329.4 L662.7 2334.5 M652.9 2312.3 A8.0 8.0 0 0 1 649.4 2315.6 M649.4 2315.6 L656.6 2331.0 M687.9 2331.8 A48.0 48.0 0 0 1 685.8 2335.2 M685.8 2335.2 L753.8 2381.2 M687.9 2331.8 L766.3 2375.8 M687.9 2331.8 A48.0 48.0 0 0 0 689.7 2328.2 M689.7 2328.2 L757.8 2359.2 M664.8 2315.1 A20.0 20.0 0 0 1 663.5 2318.1 M663.5 2318.1 L687.9 2331.8 M660.8 2311.0 A15.0 15.0 0 0 1 660.1 2313.4 M660.1 2313.4 L744.3 2343.5 M660.8 2311.0 A15.0 15.0 0 0 1 660.5 2312.2 M660.5 2312.2 L752.0 2336.5 M660.8 2311.0 L758.9 2328.5 M660.8 2311.0 A15.0 15.0 0 0 0 660.9 2309.7 M660.9 2309.7 L756.2 2318.6 M660.8 2311.0 A15.0 15.0 0 0 0 661.0 2308.5 M661.0 2308.5 L761.5 2309.4 M664.8 2315.1 A20.0 20.0 0 0 0 665.7 2311.9 M665.7 2311.9 L660.8 2311.0 M652.9 2312.3 A8.0 8.0 0 0 0 653.5 2311.0 M653.5 2311.0 L664.8 2315.1 M629.1 2314.5 A18.0 18.0 0 0 0 661.6 2317.3 M661.6 2317.3 L652.9 2312.3"/></g><g class="lab"><text x="785.7" y="2271.8" text-anchor="start" transform="rotate(-14.66 785.7 2271.8)">Lamkun</text><text x="753.7" y="2270.3" text-anchor="start" transform="rotate(-19.45 753.7 2270.3)">Neomul</text><text x="773.8" y="2250.8" text-anchor="start" transform="rotate(-24.24 773.8 2250.8)">Lamlem</text><text x="745.3" y="2253.3" text-anchor="start" transform="rotate(-29.03 745.3 2253.3)">Neobre</text><text x="739.4" y="2245.8" text-anchor="start" transform="rotate(-33.82 739.4 2245.8)">Lamoce</text><text x="791.9" y="2191.8" text-anchor="start" transform="rotate(-38.60 791.9 2191.8)">Chabri</text><text x="765.1" y="2195.8" text-anchor="start" transform="rotate(-43.39 765.1 2195.8)">Neofur</text><text x="740.5" y="2202.7" text-anchor="start" transform="rotate(-48.18 740.5 2202.7)">Neopul</text><text x="736.0" y="2189.0" text-anchor="start" transform="rotate(-52.97 736.0 2189.0)">Neosav</text><text x="722.6" y="2186.9" text-anchor="start" transform="rotate(-57.76 722.6 2186.9)">Neomod</text><text x="720.8" y="2164.4" text-anchor="start" transform="rotate(-62.55 720.8 2164.4)">Neotoa</text><text x="695.3" y="2190.4" text-anchor="start" transform="rotate(-67.34 695.3 2190.4)">Neocyg</text><text x="688.2" y="2177.5" text-anchor="start" transform="rotate(-72.13 688.2 2177.5)">Neotet</text><text x="717.6" y="2000.3" text-anchor="start" transform="rotate(-76.92 717.6 2000.3)">Batfas</text><text x="688.5" y="2017.1" text-anchor="start" transform="rotate(-81.71 688.5 2017.1)">Batgra</text><text x="665.6" y="1988.3" text-anchor="start" transform="rotate(-86.49 665.6 1988.3)">Tremar</text><text x="638.8" y="1984.7" text-anchor="end" transform="rotate(88.72 638.8 1984.7)">Trenig</text><text x="616.3" y="2029.0" text-anchor="end" transform="rotate(83.93 616.3 2029.0)">Boumic</text><text x="599.6" y="2066.3" text-anchor="end" transform="rotate(79.14 599.6 2066.3)">Hapmic</text><text x="575.8" y="2057.9" text-anchor="end" transform="rotate(74.35 575.8 2057.9)">Plepar</text><text x="567.9" y="2098.8" text-anchor="end" transform="rotate(69.56 567.9 2098.8)">Permic</text><text x="545.2" y="2094.5" text-anchor="end" transform="rotate(64.77 545.2 2094.5)">Lchaur</text><text x="466.8" y="1998.2" text-anchor="end" transform="rotate(59.98 466.8 1998.2)">Cphgib</text><text x="457.0" y="2036.5" text-anchor="end" transform="rotate(55.19 457.0 2036.5)">Xenspi</text><text x="384.7" y="1992.4" text-anchor="end" transform="rotate(50.40 384.7 1992.4)">Erecya</text><text x="212.7" y="1865.7" dy="-5.5" style="dominant-baseline:alphabetic" text-anchor="start" transform="rotate(45.61 212.7 1865.7)">Plestr</text><text x="416.6" y="2110.1" text-anchor="end" transform="rotate(40.83 416.6 2110.1)">Eremar</text><text x="408.1" y="2135.3" text-anchor="end" transform="rotate(36.04 408.1 2135.3)">Spaery</text><text x="412.0" y="2166.4" text-anchor="end" transform="rotate(31.25 412.0 2166.4)">Tanirs</text><text x="401.6" y="2186.7" text-anchor="end" transform="rotate(26.46 401.6 2186.7)">Auldew</text><text x="404.8" y="2212.5" text-anchor="end" transform="rotate(21.67 404.8 2212.5)">Ophven</text><text x="407.6" y="2236.0" text-anchor="end" transform="rotate(16.88 407.6 2236.0)">Cyafur</text><text x="388.8" y="2253.3" text-anchor="end" transform="rotate(12.09 388.8 2253.3)">Calmac</text><text x="395.4" y="2276.2" text-anchor="end" transform="rotate(7.30 395.4 2276.2)">Calple</text><text x="378.0" y="2296.6" text-anchor="end" transform="rotate(2.51 378.0 2296.6)">Xenbou</text><text x="398.5" y="2318.2" text-anchor="end" transform="rotate(-2.28 398.5 2318.2)">Xennas</text><text x="373.7" y="2342.1" text-anchor="end" transform="rotate(-7.07 373.7 2342.1)">Enamel</text><text x="419.2" y="2356.0" text-anchor="end" transform="rotate(-11.85 419.2 2356.0)">Cypdwj</text><text x="393.7" y="2383.8" text-anchor="end" transform="rotate(-16.64 393.7 2383.8)">Cypmic</text><text x="435.8" y="2390.8" text-anchor="end" transform="rotate(-21.43 435.8 2390.8)">Pcynig</text><text x="429.5" y="2415.0" text-anchor="end" transform="rotate(-26.22 429.5 2415.0)">PcybrN</text><text x="438.6" y="2433.0" text-anchor="end" transform="rotate(-31.01 438.6 2433.0)">Benhor</text><text x="415.8" y="2474.3" text-anchor="end" transform="rotate(-35.80 415.8 2474.3)">Pscbab</text><text x="445.4" y="2480.2" text-anchor="end" transform="rotate(-40.59 445.4 2480.2)">Pscple</text><text x="465.7" y="2491.1" text-anchor="end" transform="rotate(-45.38 465.7 2491.1)">Gnapfe</text><text x="426.1" y="2572.0" text-anchor="end" transform="rotate(-50.17 426.1 2572.0)">Loblab</text><text x="417.8" y="2633.8" text-anchor="end" transform="rotate(-54.96 417.8 2633.8)">Petfam</text><text x="487.4" y="2580.2" text-anchor="end" transform="rotate(-59.75 487.4 2580.2)">Petmac</text><text x="501.1" y="2612.7" text-anchor="end" transform="rotate(-64.53 501.1 2612.7)">Peteph</text><text x="540.0" y="2589.2" text-anchor="end" transform="rotate(-69.32 540.0 2589.2)">Petfas</text><text x="563.9" y="2596.8" text-anchor="end" transform="rotate(-74.11 563.9 2596.8)">Petpol</text><text x="596.5" y="2560.9" text-anchor="end" transform="rotate(-78.90 596.5 2560.9)">Intloo</text><text x="615.5" y="2583.8" text-anchor="end" transform="rotate(-83.69 615.5 2583.8)">Tromoo</text><text x="638.8" y="2579.2" text-anchor="end" transform="rotate(-88.48 638.8 2579.2)">Tronig</text><text x="660.2" y="2557.7" text-anchor="start" transform="rotate(-273.27 660.2 2557.7)">Simdia</text><text x="680.1" y="2549.2" text-anchor="start" transform="rotate(-278.06 680.1 2549.2)">Ctehor</text><text x="703.4" y="2559.9" text-anchor="start" transform="rotate(-282.85 703.4 2559.9)">Astbur</text><text x="735.4" y="2589.5" text-anchor="start" transform="rotate(-287.64 735.4 2589.5)">Varmoo</text><text x="695.1" y="2427.3" text-anchor="start" transform="rotate(-292.43 695.1 2427.3)">Neobue</text><text x="706.3" y="2425.6" text-anchor="start" transform="rotate(-297.21 706.3 2425.6)">Neocyl</text><text x="739.3" y="2457.7" text-anchor="start" transform="rotate(-302.00 739.3 2457.7)">Julorn</text><text x="757.1" y="2456.9" text-anchor="start" transform="rotate(-306.79 757.1 2456.9)">Julreg</text><text x="759.2" y="2435.9" text-anchor="start" transform="rotate(-311.58 759.2 2435.9)">Neonig</text><text x="742.7" y="2400.6" text-anchor="start" transform="rotate(-316.37 742.7 2400.6)">Juldic</text><text x="745.5" y="2388.5" text-anchor="start" transform="rotate(-321.16 745.5 2388.5)">Neowal</text><text x="762.5" y="2387.0" text-anchor="start" transform="rotate(-325.95 762.5 2387.0)">TeldhS</text><text x="775.5" y="2380.9" text-anchor="start" transform="rotate(-330.74 775.5 2380.9)">Telvit</text><text x="767.3" y="2363.6" text-anchor="start" transform="rotate(-335.53 767.3 2363.6)">TelteS</text><text x="754.2" y="2347.1" text-anchor="start" transform="rotate(-340.32 754.2 2347.1)">Neocau</text><text x="762.2" y="2339.2" text-anchor="start" transform="rotate(-345.11 762.2 2339.2)">Altcom</text><text x="769.2" y="2330.3" text-anchor="start" transform="rotate(-349.89 769.2 2330.3)">Neofas</text><text x="766.7" y="2319.6" text-anchor="start" transform="rotate(-354.68 766.7 2319.6)">Lepatt</text><text x="772.0" y="2309.5" text-anchor="start" transform="rotate(-359.47 772.0 2309.5)">Lepelo</text></g>
<rect x="1026.0" y="1841.9" width="1017.2" height="858.1" fill="#fff"/>
<text class="ttl" x="1047.5" y="1884.1">liver</text>
<g fill="none" stroke-width="3.8" stroke-linecap="round" stroke-linejoin="round"><path stroke="#C8C8C8" d="M1521.2 2271.5 A88.0 88.0 0 0 1 1524.9 2274.8 M1524.9 2274.8 L1564.6 2232.5 M1457.0 2284.5 A55.0 55.0 0 0 1 1500.0 2296.8 M1500.0 2296.8 L1521.2 2271.5 M1459.7 2259.1 A80.0 80.0 0 0 0 1438.5 2263.3 M1438.5 2263.3 L1426.4 2228.4 M1403.2 2295.9 A75.0 75.0 0 0 1 1460.0 2264.1 M1460.0 2264.1 L1459.7 2259.1 M1390.4 2362.7 A78.0 78.0 0 0 1 1390.6 2314.4 M1390.6 2314.4 L1373.5 2308.8 M1411.6 2411.6 A90.0 90.0 0 0 1 1397.8 2399.2 M1397.8 2399.2 L1391.1 2405.2 M1425.5 2425.5 A95.0 95.0 0 0 0 1436.7 2429.7 M1436.7 2429.7 L1432.3 2444.0 M1411.6 2411.6 A90.0 90.0 0 0 0 1427.6 2420.9 M1427.6 2420.9 L1425.5 2425.5 M1390.4 2362.7 A78.0 78.0 0 0 0 1418.6 2401.9 M1418.6 2401.9 L1411.6 2411.6 M1403.2 2295.9 A75.0 75.0 0 0 0 1393.2 2361.8 M1393.2 2361.8 L1390.4 2362.7 M1457.0 2284.5 A55.0 55.0 0 0 0 1419.6 2307.4 M1419.6 2307.4 L1403.2 2295.9 M1438.6 2338.9 A26.0 26.0 0 0 1 1461.0 2313.2 M1461.0 2313.2 L1457.0 2284.5"/><path stroke="#95B4D8" d="M1545.2 2192.6 A167.0 167.0 0 0 1 1551.2 2196.1 M1551.2 2196.1 L1615.2 2090.5 M1545.2 2192.6 A167.0 167.0 0 0 0 1539.0 2189.4 M1539.0 2189.4 L1599.2 2068.2 M1532.0 2196.0 A158.0 158.0 0 0 1 1540.8 2200.5 M1540.8 2200.5 L1545.2 2192.6 M1532.0 2196.0 A158.0 158.0 0 0 0 1522.9 2192.1 M1522.9 2192.1 L1568.1 2078.0 M1517.8 2200.8 A148.0 148.0 0 0 1 1527.7 2205.0 M1527.7 2205.0 L1532.0 2196.0 M1517.8 2200.8 A148.0 148.0 0 0 0 1507.5 2197.3 M1507.5 2197.3 L1555.1 2040.3 M1490.3 2218.6 A123.0 123.0 0 0 1 1508.8 2224.1 M1508.8 2224.1 L1517.8 2200.8 M1495.8 2155.6 A186.0 186.0 0 0 1 1503.5 2157.0 M1503.5 2157.0 L1535.5 2007.2 M1495.8 2155.6 A186.0 186.0 0 0 0 1488.2 2154.4 M1488.2 2154.4 L1505.9 2015.2 M1472.7 2189.1 A150.0 150.0 0 0 1 1489.8 2191.0 M1489.8 2191.0 L1495.8 2155.6 M1464.9 2148.9 A190.0 190.0 0 0 1 1472.8 2149.1 M1472.8 2149.1 L1476.4 2066.6 M1464.9 2148.9 A190.0 190.0 0 0 0 1456.9 2149.1 M1456.9 2149.1 L1453.5 2064.8 M1454.0 2166.2 A173.0 173.0 0 0 1 1464.9 2165.9 M1464.9 2165.9 L1464.9 2148.9 M1454.0 2166.2 A173.0 173.0 0 0 0 1443.2 2167.3 M1443.2 2167.3 L1429.0 2053.1 M1472.7 2189.1 A150.0 150.0 0 0 0 1455.4 2189.2 M1455.4 2189.2 L1454.0 2166.2 M1490.3 2218.6 A123.0 123.0 0 0 0 1471.2 2216.1 M1471.2 2216.1 L1472.7 2189.1 M1459.7 2259.1 A80.0 80.0 0 0 1 1481.4 2260.7 M1481.4 2260.7 L1490.3 2218.6"/><path stroke="#7EC56C" d="M1564.6 2232.5 A146.0 146.0 0 0 0 1560.1 2228.4 M1560.1 2228.4 L1787.3 1965.3 M1323.9 2231.5 A177.0 177.0 0 0 1 1328.6 2225.7 M1328.6 2225.7 L1203.9 2122.1 M1323.9 2231.5 A177.0 177.0 0 0 0 1319.6 2237.5 M1319.6 2237.5 L1231.5 2175.9 M1353.9 2276.8 A127.0 127.0 0 0 1 1363.7 2261.9 M1363.7 2261.9 L1323.9 2231.5 M1312.5 2258.8 A172.0 172.0 0 0 1 1315.9 2252.5 M1315.9 2252.5 L1205.3 2188.2 M1312.5 2258.8 A172.0 172.0 0 0 0 1309.2 2265.2 M1309.2 2265.2 L1193.0 2210.1 M1324.8 2284.7 A150.0 150.0 0 0 1 1331.9 2269.0 M1331.9 2269.0 L1312.5 2258.8 M1279.4 2278.1 A195.0 195.0 0 0 1 1282.1 2270.4 M1282.1 2270.4 L1137.6 2216.1 M1279.4 2278.1 A195.0 195.0 0 0 0 1277.0 2285.9 M1277.0 2285.9 L1180.5 2258.6 M1303.0 2296.9 A167.0 167.0 0 0 1 1306.0 2286.8 M1306.0 2286.8 L1279.4 2278.1 M1303.0 2296.9 A167.0 167.0 0 0 0 1300.7 2307.1 M1300.7 2307.1 L1177.9 2283.2 M1324.8 2284.7 A150.0 150.0 0 0 0 1319.5 2301.1 M1319.5 2301.1 L1303.0 2296.9 M1353.9 2276.8 A127.0 127.0 0 0 0 1346.2 2293.0 M1346.2 2293.0 L1324.8 2284.7 M1365.2 2328.6 A100.0 100.0 0 0 1 1377.4 2290.0 M1377.4 2290.0 L1353.9 2276.8 M1280.1 2326.7 A185.0 185.0 0 0 1 1280.7 2318.9 M1280.7 2318.9 L1138.4 2303.5 M1280.1 2326.7 A185.0 185.0 0 0 0 1279.7 2334.4 M1279.7 2334.4 L1153.8 2331.3 M1301.7 2341.7 A163.0 163.0 0 0 1 1302.0 2328.1 M1302.0 2328.1 L1280.1 2326.7 M1286.6 2357.0 A179.0 179.0 0 0 1 1286.0 2349.5 M1286.0 2349.5 L1171.0 2356.3 M1286.6 2357.0 A179.0 179.0 0 0 0 1287.5 2364.4 M1287.5 2364.4 L1137.7 2385.9 M1301.7 2341.7 A163.0 163.0 0 0 0 1302.5 2355.3 M1302.5 2355.3 L1286.6 2357.0 M1319.7 2356.7 A146.0 146.0 0 0 1 1318.7 2341.4 M1318.7 2341.4 L1301.7 2341.7 M1319.7 2356.7 A146.0 146.0 0 0 0 1322.4 2371.7 M1322.4 2371.7 L1157.8 2409.6 M1338.6 2366.6 A129.0 129.0 0 0 1 1336.6 2354.6 M1336.6 2354.6 L1319.7 2356.7 M1338.6 2366.6 A129.0 129.0 0 0 0 1341.8 2378.3 M1341.8 2378.3 L1155.7 2437.9 M1363.5 2370.7 A106.0 106.0 0 0 1 1361.1 2361.6 M1361.1 2361.6 L1338.6 2366.6 M1363.5 2370.7 A106.0 106.0 0 0 0 1366.8 2379.6 M1366.8 2379.6 L1185.6 2454.8 M1365.2 2328.6 A100.0 100.0 0 0 0 1369.3 2368.9 M1369.3 2368.9 L1363.5 2370.7 M1373.5 2308.8 A96.0 96.0 0 0 0 1369.2 2329.1 M1369.2 2329.1 L1365.2 2328.6"/><path stroke="#5A2379" d="M1339.4 2149.6 A227.0 227.0 0 0 1 1347.5 2144.5 M1347.5 2144.5 L1282.7 2037.0 M1339.4 2149.6 A227.0 227.0 0 0 0 1331.6 2155.0 M1331.6 2155.0 L1271.4 2071.7 M1337.5 2170.6 A211.0 211.0 0 0 1 1348.3 2162.9 M1348.3 2162.9 L1339.4 2149.6 M1337.5 2170.6 A211.0 211.0 0 0 0 1327.1 2178.9 M1327.1 2178.9 L1270.5 2112.9 M1336.0 2192.3 A195.0 195.0 0 0 1 1347.1 2183.3 M1347.1 2183.3 L1337.5 2170.6 M1336.0 2192.3 A195.0 195.0 0 0 0 1325.7 2202.1 M1325.7 2202.1 L1255.0 2132.7 M1373.5 2308.8 A96.0 96.0 0 0 1 1401.3 2266.8 M1401.3 2266.8 L1336.0 2192.3"/><path stroke="#F4A645" d="M1353.4 2490.5 A188.0 188.0 0 0 1 1347.1 2485.7 M1347.1 2485.7 L1279.7 2569.8 M1353.4 2490.5 A188.0 188.0 0 0 0 1359.8 2495.0 M1359.8 2495.0 L1297.1 2588.3 M1375.3 2484.7 A171.0 171.0 0 0 1 1363.4 2476.8 M1363.4 2476.8 L1353.4 2490.5 M1385.1 2497.0 A177.0 177.0 0 0 1 1378.6 2493.6 M1378.6 2493.6 L1329.6 2581.6 M1385.1 2497.0 A177.0 177.0 0 0 0 1391.8 2500.2 M1391.8 2500.2 L1346.8 2599.8 M1375.3 2484.7 A171.0 171.0 0 0 0 1387.8 2491.7 M1387.8 2491.7 L1385.1 2497.0 M1425.5 2425.5 A95.0 95.0 0 0 1 1415.0 2419.9 M1415.0 2419.9 L1375.3 2484.7"/><path stroke="#A8232A" d="M1391.1 2405.2 A99.0 99.0 0 0 0 1396.5 2410.8 M1396.5 2410.8 L1272.9 2541.1"/><path stroke="#EB5428" d="M1304.0 2430.7 A185.0 185.0 0 0 1 1300.3 2423.9 M1300.3 2423.9 L1213.2 2469.0 M1304.0 2430.7 A185.0 185.0 0 0 0 1308.0 2437.3 M1308.0 2437.3 L1222.7 2491.0 M1347.7 2415.9 A140.0 140.0 0 0 1 1343.1 2408.4 M1343.1 2408.4 L1304.0 2430.7 M1347.7 2415.9 A140.0 140.0 0 0 0 1352.7 2423.0 M1352.7 2423.0 L1232.2 2513.7 M1367.1 2413.9 A123.0 123.0 0 0 1 1361.9 2406.5 M1361.9 2406.5 L1347.7 2415.9 M1367.1 2413.9 A123.0 123.0 0 0 0 1372.8 2420.8 M1372.8 2420.8 L1238.7 2540.4 M1391.1 2405.2 A99.0 99.0 0 0 1 1386.1 2399.2 M1386.1 2399.2 L1367.1 2413.9"/><path stroke="#F5E21D" d="M1432.3 2444.0 A110.0 110.0 0 0 1 1427.9 2442.6 M1427.9 2442.6 L1362.6 2626.8"/><path stroke="#4B58A6" d="M1432.3 2444.0 A110.0 110.0 0 0 0 1436.7 2445.3 M1436.7 2445.3 L1398.8 2589.5"/><path stroke="#202020" d="M1386.5 2162.5 A193.0 193.0 0 0 1 1393.9 2159.3 M1393.9 2159.3 L1341.9 2027.2 M1386.5 2162.5 A193.0 193.0 0 0 0 1379.2 2165.9 M1379.2 2165.9 L1287.2 1979.7 M1426.4 2228.4 A117.0 117.0 0 0 0 1417.3 2231.9 M1417.3 2231.9 L1386.5 2162.5"/><path stroke="#5C5C5C" d="M1564.6 2232.5 A146.0 146.0 0 0 1 1569.0 2236.8 M1569.0 2236.8 L1944.0 1869.6"/><path stroke="#8E8C70" d="M1394.2 2062.8 A285.0 285.0 0 0 1 1405.8 2060.1 M1405.8 2060.1 L1388.3 1977.0 M1394.2 2062.8 A285.0 285.0 0 0 0 1382.7 2065.9 M1382.7 2065.9 L1360.1 1990.6 M1426.4 2228.4 A117.0 117.0 0 0 1 1435.7 2225.6 M1435.7 2225.6 L1394.2 2062.8"/><path stroke="#C586BD" d="M1461.6 2338.9 A3.0 3.0 0 0 1 1467.2 2337.4 M1467.2 2337.4 L1619.5 2249.5 M1461.6 2338.9 A3.0 3.0 0 0 1 1467.1 2337.2 M1467.1 2337.2 L1641.6 2215.9 M1461.6 2338.9 A3.0 3.0 0 0 1 1467.0 2337.0 M1467.0 2337.0 L1580.7 2242.9 M1438.6 2338.9 L1461.6 2338.9 M1521.2 2271.5 A88.0 88.0 0 0 0 1516.4 2267.7 M1516.4 2267.7 L1666.2 2061.7 M1460.7 2368.7 A30.0 30.0 0 0 1 1459.5 2368.5 M1459.5 2368.5 L1425.4 2563.2 M1460.7 2368.7 A30.0 30.0 0 0 0 1462.0 2368.8 M1462.0 2368.8 L1447.8 2526.2 M1463.7 2364.9 A26.0 26.0 0 0 1 1461.2 2364.7 M1461.2 2364.7 L1460.7 2368.7 M1465.9 2373.9 A35.0 35.0 0 0 1 1464.4 2373.9 M1464.4 2373.9 L1463.5 2527.2 M1465.9 2373.9 A35.0 35.0 0 0 0 1467.4 2373.8 M1467.4 2373.8 L1480.2 2538.9 M1463.7 2364.9 A26.0 26.0 0 0 0 1465.6 2364.9 M1465.6 2364.9 L1465.9 2373.9 M1472.7 2378.1 A40.0 40.0 0 0 1 1471.1 2378.4 M1471.1 2378.4 L1495.0 2525.5 M1472.7 2378.1 A40.0 40.0 0 0 0 1474.3 2377.7 M1474.3 2377.7 L1509.8 2519.7 M1463.7 2364.9 A26.0 26.0 0 0 0 1469.9 2364.4 M1469.9 2364.4 L1472.7 2378.1 M1480.9 2380.9 A45.0 45.0 0 0 1 1479.2 2381.5 M1479.2 2381.5 L1536.8 2550.7 M1480.9 2380.9 A45.0 45.0 0 0 0 1482.7 2380.2 M1482.7 2380.2 L1536.7 2503.6 M1463.7 2364.9 A26.0 26.0 0 0 0 1474.1 2363.2 M1474.1 2363.2 L1480.9 2380.9 M1465.0 2341.9 A3.0 3.0 0 0 1 1464.5 2341.9 M1464.5 2341.9 L1463.7 2364.9 M1471.6 2348.7 A12.0 12.0 0 0 1 1470.4 2349.5 M1470.4 2349.5 L1560.2 2515.6 M1471.6 2348.7 A12.0 12.0 0 0 1 1471.2 2349.0 M1471.2 2349.0 L1538.6 2452.0 M1471.6 2348.7 A12.0 12.0 0 0 0 1472.0 2348.4 M1472.0 2348.4 L1562.8 2464.6 M1471.6 2348.7 A12.0 12.0 0 0 0 1472.8 2347.7 M1472.8 2347.7 L1570.3 2453.0 M1469.2 2341.0 A5.0 5.0 0 0 1 1467.6 2343.0 M1467.6 2343.0 L1471.6 2348.7 M1476.9 2347.6 A15.0 15.0 0 0 1 1475.7 2349.0 M1475.7 2349.0 L1587.3 2451.0 M1476.9 2347.6 A15.0 15.0 0 0 1 1476.5 2348.1 M1476.5 2348.1 L1587.3 2433.5 M1476.9 2347.6 A15.0 15.0 0 0 0 1477.2 2347.1 M1477.2 2347.1 L1593.5 2422.1 M1476.9 2347.6 A15.0 15.0 0 0 0 1477.9 2346.0 M1477.9 2346.0 L1607.7 2415.1 M1469.2 2341.0 A5.0 5.0 0 0 1 1468.7 2341.8 M1468.7 2341.8 L1476.9 2347.6 M1474.3 2341.7 A10.0 10.0 0 0 1 1473.8 2342.9 M1473.8 2342.9 L1610.0 2401.4 M1474.3 2341.7 A10.0 10.0 0 0 1 1474.1 2342.1 M1474.1 2342.1 L1627.1 2393.1 M1474.3 2341.7 A10.0 10.0 0 0 0 1474.4 2341.3 M1474.4 2341.3 L1619.1 2376.5 M1474.3 2341.7 A10.0 10.0 0 0 0 1474.5 2340.5 M1474.5 2340.5 L1622.8 2363.6 M1469.2 2341.0 A5.0 5.0 0 0 0 1469.4 2340.3 M1469.4 2340.3 L1474.3 2341.7 M1472.6 2338.2 A8.0 8.0 0 0 1 1472.6 2339.5 M1472.6 2339.5 L1599.7 2348.5 M1472.6 2338.2 A8.0 8.0 0 0 1 1472.6 2338.8 M1472.6 2338.8 L1620.0 2337.0 M1472.6 2338.2 L1592.5 2326.6 M1472.6 2338.2 A8.0 8.0 0 0 0 1472.5 2337.5 M1472.5 2337.5 L1592.5 2315.7 M1472.6 2338.2 A8.0 8.0 0 0 0 1472.4 2336.8 M1472.4 2336.8 L1592.4 2304.5 M1469.2 2341.0 A5.0 5.0 0 0 0 1469.6 2338.4 M1469.6 2338.4 L1472.6 2338.2 M1465.0 2341.9 A3.0 3.0 0 0 0 1467.4 2340.2 M1467.4 2340.2 L1469.2 2341.0 M1438.6 2338.9 A26.0 26.0 0 0 0 1467.8 2364.7 M1467.8 2364.7 L1465.0 2341.9"/></g><g class="lab"><text x="1628.6" y="2244.2" text-anchor="start" transform="rotate(-30.02 1628.6 2244.2)">Neonig</text><text x="1650.2" y="2209.9" text-anchor="start" transform="rotate(-34.81 1650.2 2209.9)">Neotoa</text><text x="1588.8" y="2236.2" text-anchor="start" transform="rotate(-39.60 1588.8 2236.2)">Varmoo</text><text x="1941.8" y="1871.7" dy="-5.5" style="dominant-baseline:alphabetic" text-anchor="end" transform="rotate(-44.40 1941.8 1871.7)">Boumic</text><text x="1794.1" y="1957.3" text-anchor="start" transform="rotate(-49.19 1794.1 1957.3)">Petmac</text><text x="1672.4" y="2053.2" text-anchor="start" transform="rotate(-53.98 1672.4 2053.2)">Lepelo</text><text x="1620.7" y="2081.5" text-anchor="start" transform="rotate(-58.77 1620.7 2081.5)">Xenbou</text><text x="1603.9" y="2058.8" text-anchor="start" transform="rotate(-63.57 1603.9 2058.8)">Xenspi</text><text x="1572.0" y="2068.3" text-anchor="start" transform="rotate(-68.36 1572.0 2068.3)">Xennas</text><text x="1558.1" y="2030.2" text-anchor="start" transform="rotate(-73.15 1558.1 2030.2)">Enamel</text><text x="1537.7" y="1996.9" text-anchor="start" transform="rotate(-77.95 1537.7 1996.9)">Calmac</text><text x="1507.2" y="2004.8" text-anchor="start" transform="rotate(-82.74 1507.2 2004.8)">Calple</text><text x="1476.8" y="2056.1" text-anchor="start" transform="rotate(-87.53 1476.8 2056.1)">Auldew</text><text x="1453.1" y="2054.3" text-anchor="end" transform="rotate(87.68 1453.1 2054.3)">Ophven</text><text x="1427.7" y="2042.6" text-anchor="end" transform="rotate(82.88 1427.7 2042.6)">Cyafur</text><text x="1386.2" y="1966.7" text-anchor="end" transform="rotate(78.09 1386.2 1966.7)">Tremar</text><text x="1357.1" y="1980.6" text-anchor="end" transform="rotate(73.30 1357.1 1980.6)">Trenig</text><text x="1338.0" y="2017.4" text-anchor="end" transform="rotate(68.51 1338.0 2017.4)">Batfas</text><text x="1282.6" y="1970.3" text-anchor="end" transform="rotate(63.71 1282.6 1970.3)">Batgra</text><text x="1277.2" y="2028.0" text-anchor="end" transform="rotate(58.92 1277.2 2028.0)">Spaery</text><text x="1265.3" y="2063.2" text-anchor="end" transform="rotate(54.13 1265.3 2063.2)">Tanirs</text><text x="1263.6" y="2104.9" text-anchor="end" transform="rotate(49.33 1263.6 2104.9)">Eremar</text><text x="1247.6" y="2125.3" text-anchor="end" transform="rotate(44.54 1247.6 2125.3)">Erecya</text><text x="1195.8" y="2115.4" text-anchor="end" transform="rotate(39.75 1195.8 2115.4)">Pscbab</text><text x="1222.9" y="2169.9" text-anchor="end" transform="rotate(34.96 1222.9 2169.9)">Pscple</text><text x="1196.2" y="2182.9" text-anchor="end" transform="rotate(30.16 1196.2 2182.9)">Loblab</text><text x="1183.5" y="2205.6" text-anchor="end" transform="rotate(25.37 1183.5 2205.6)">Simdia</text><text x="1127.8" y="2212.4" text-anchor="end" transform="rotate(20.58 1127.8 2212.4)">Peteph</text><text x="1170.4" y="2255.7" text-anchor="end" transform="rotate(15.78 1170.4 2255.7)">Petpol</text><text x="1167.6" y="2281.2" text-anchor="end" transform="rotate(10.99 1167.6 2281.2)">Petfam</text><text x="1128.0" y="2302.4" text-anchor="end" transform="rotate(6.20 1128.0 2302.4)">Intloo</text><text x="1143.3" y="2331.0" text-anchor="end" transform="rotate(1.41 1143.3 2331.0)">Petfas</text><text x="1160.5" y="2356.9" text-anchor="end" transform="rotate(-3.39 1160.5 2356.9)">Tromoo</text><text x="1127.3" y="2387.4" text-anchor="end" transform="rotate(-8.18 1127.3 2387.4)">Tronig</text><text x="1147.5" y="2412.0" text-anchor="end" transform="rotate(-12.97 1147.5 2412.0)">Ctehor</text><text x="1145.7" y="2441.1" text-anchor="end" transform="rotate(-17.76 1145.7 2441.1)">Gnapfe</text><text x="1175.9" y="2458.9" text-anchor="end" transform="rotate(-22.56 1175.9 2458.9)">Astbur</text><text x="1203.9" y="2473.8" text-anchor="end" transform="rotate(-27.35 1203.9 2473.8)">Cypdwj</text><text x="1213.8" y="2496.5" text-anchor="end" transform="rotate(-32.14 1213.8 2496.5)">Cypmic</text><text x="1223.8" y="2520.0" text-anchor="end" transform="rotate(-36.94 1223.8 2520.0)">Pcynig</text><text x="1230.9" y="2547.4" text-anchor="end" transform="rotate(-41.73 1230.9 2547.4)">PcybrN</text><text x="1265.7" y="2548.7" text-anchor="end" transform="rotate(-46.52 1265.7 2548.7)">Benhor</text><text x="1273.2" y="2578.0" text-anchor="end" transform="rotate(-51.31 1273.2 2578.0)">Hapmic</text><text x="1291.2" y="2597.0" text-anchor="end" transform="rotate(-56.11 1291.2 2597.0)">Plepar</text><text x="1324.4" y="2590.8" text-anchor="end" transform="rotate(-60.90 1324.4 2590.8)">Permic</text><text x="1342.5" y="2609.4" text-anchor="end" transform="rotate(-65.69 1342.5 2609.4)">Plestr</text><text x="1359.1" y="2636.6" text-anchor="end" transform="rotate(-70.48 1359.1 2636.6)">Cphgib</text><text x="1396.1" y="2599.6" text-anchor="end" transform="rotate(-75.28 1396.1 2599.6)">Lchaur</text><text x="1423.6" y="2573.5" text-anchor="end" transform="rotate(-80.07 1423.6 2573.5)">Lamlem</text><text x="1446.9" y="2536.7" text-anchor="end" transform="rotate(-84.86 1446.9 2536.7)">Lepatt</text><text x="1463.4" y="2537.7" text-anchor="end" transform="rotate(-89.66 1463.4 2537.7)">Neofas</text><text x="1481.0" y="2549.4" text-anchor="start" transform="rotate(-274.45 1481.0 2549.4)">Lamkun</text><text x="1496.7" y="2535.9" text-anchor="start" transform="rotate(-279.24 1496.7 2535.9)">Neobre</text><text x="1512.4" y="2529.9" text-anchor="start" transform="rotate(-284.03 1512.4 2529.9)">Altcom</text><text x="1540.2" y="2560.6" text-anchor="start" transform="rotate(-288.83 1540.2 2560.6)">Lamoce</text><text x="1540.9" y="2513.2" text-anchor="start" transform="rotate(-293.62 1540.9 2513.2)">Neocau</text><text x="1565.2" y="2524.9" text-anchor="start" transform="rotate(-298.41 1565.2 2524.9)">Neomul</text><text x="1544.4" y="2460.7" text-anchor="start" transform="rotate(-303.20 1544.4 2460.7)">Neopul</text><text x="1569.3" y="2472.9" text-anchor="start" transform="rotate(-308.00 1569.3 2472.9)">Neosav</text><text x="1577.4" y="2460.7" text-anchor="start" transform="rotate(-312.79 1577.4 2460.7)">Neocyg</text><text x="1595.1" y="2458.1" text-anchor="start" transform="rotate(-317.58 1595.1 2458.1)">Neowal</text><text x="1595.6" y="2439.9" text-anchor="start" transform="rotate(-322.38 1595.6 2439.9)">Julorn</text><text x="1602.3" y="2427.8" text-anchor="start" transform="rotate(-327.17 1602.3 2427.8)">Julreg</text><text x="1616.9" y="2420.0" text-anchor="start" transform="rotate(-331.96 1616.9 2420.0)">Chabri</text><text x="1619.6" y="2405.5" text-anchor="start" transform="rotate(-336.75 1619.6 2405.5)">Juldic</text><text x="1637.1" y="2396.5" text-anchor="start" transform="rotate(-341.55 1637.1 2396.5)">Neobue</text><text x="1629.3" y="2378.9" text-anchor="start" transform="rotate(-346.34 1629.3 2378.9)">Neofur</text><text x="1633.1" y="2365.2" text-anchor="start" transform="rotate(-351.13 1633.1 2365.2)">Neocyl</text><text x="1610.2" y="2349.3" text-anchor="start" transform="rotate(-355.92 1610.2 2349.3)">Neomod</text><text x="1630.5" y="2336.8" text-anchor="start" transform="rotate(-0.72 1630.5 2336.8)">Neotet</text><text x="1602.9" y="2325.6" text-anchor="start" transform="rotate(-5.51 1602.9 2325.6)">TeldhS</text><text x="1602.9" y="2313.8" text-anchor="start" transform="rotate(-10.30 1602.9 2313.8)">TelteS</text><text x="1602.5" y="2301.7" text-anchor="start" transform="rotate(-15.10 1602.5 2301.7)">Telvit</text></g>
</svg></body></html>
